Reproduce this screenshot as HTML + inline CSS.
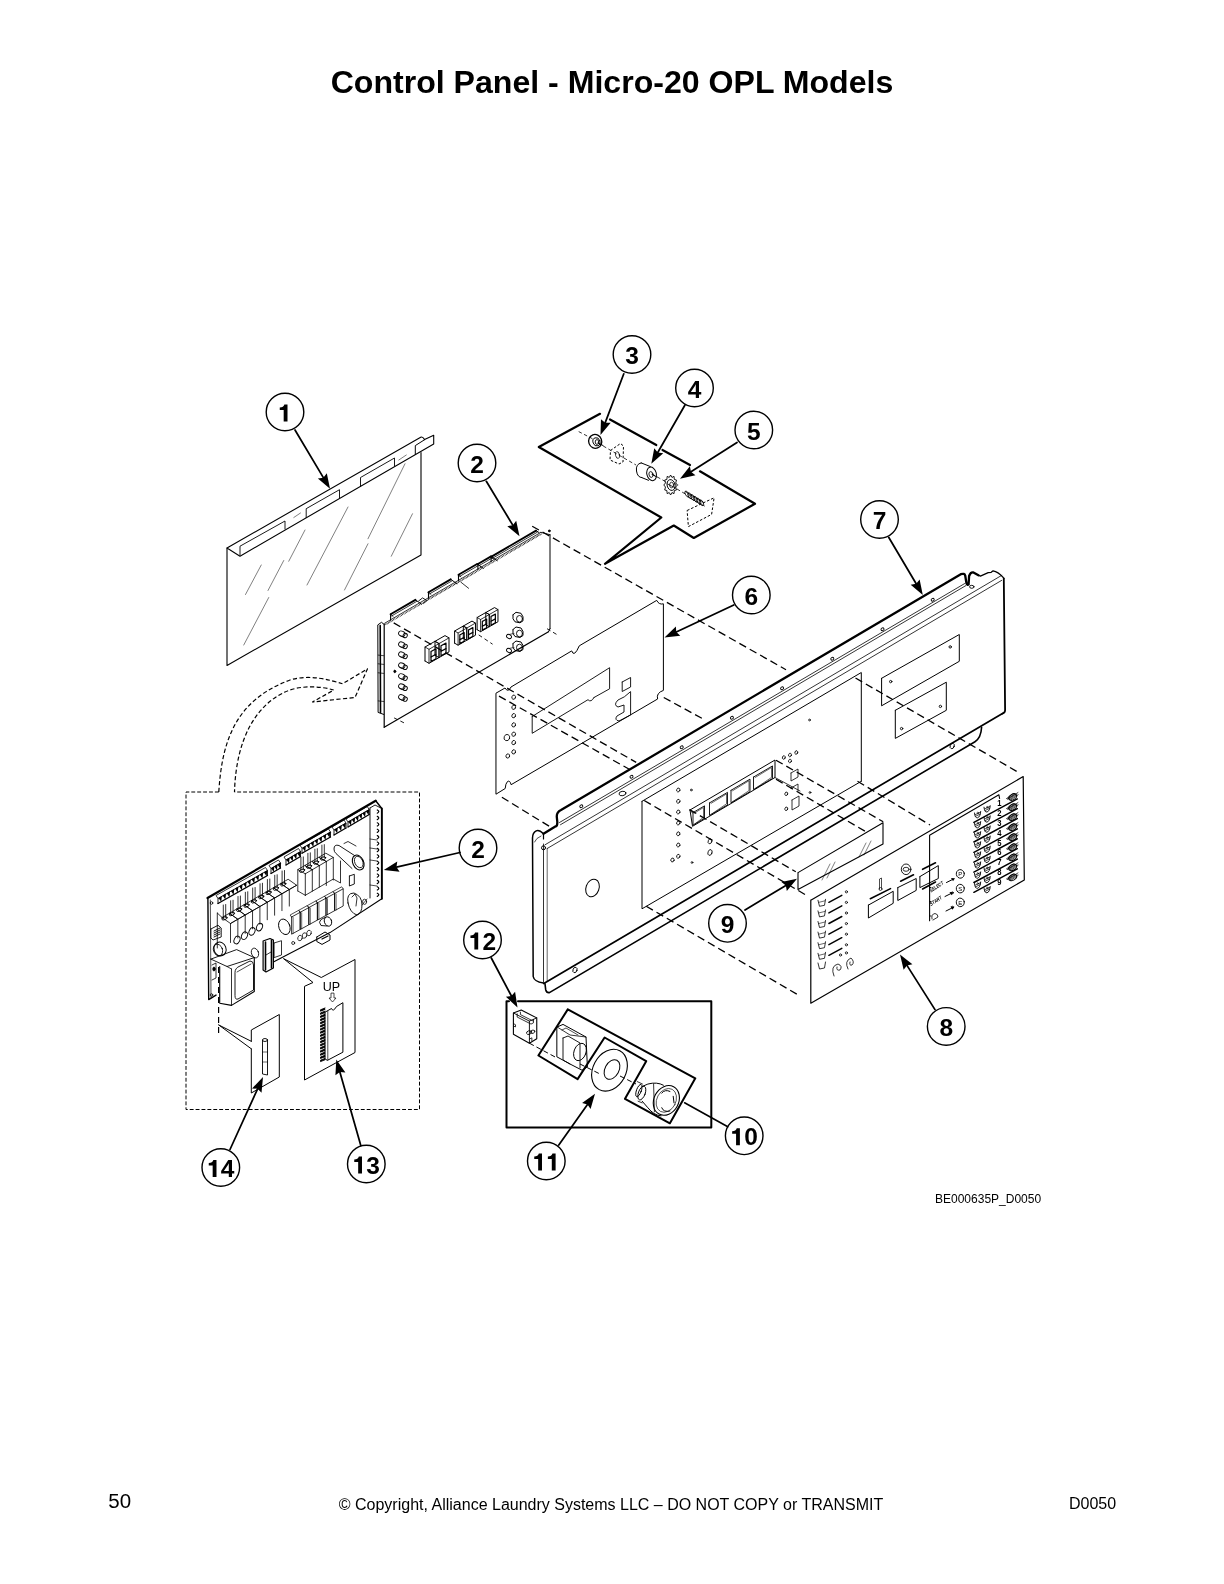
<!DOCTYPE html>
<html><head><meta charset="utf-8"><style>
html,body{margin:0;padding:0;background:#fff;}
body{width:1224px;height:1584px;overflow:hidden;}
svg{display:block;will-change:transform;}
text{font-family:"Liberation Sans",sans-serif;fill:#000;stroke:none;}
.cn{font-size:24.5px;font-weight:bold;}
</style></head><body>
<svg width="1224" height="1584" viewBox="0 0 1224 1584" stroke="#000" fill="none" stroke-linecap="round" stroke-linejoin="round">
<text x="612" y="93" text-anchor="middle" style="font-size:32.1px;font-weight:bold">Control Panel - Micro-20 OPL Models</text>
<text x="108.3" y="1508" style="font-size:20.5px">50</text>
<text x="611" y="1510" text-anchor="middle" style="font-size:16px">© Copyright, Alliance Laundry Systems LLC – DO NOT COPY or TRANSMIT</text>
<text x="1069" y="1508.5" style="font-size:16px">D0050</text>
<text x="935" y="1203" style="font-size:12px">BE000635P_D0050</text>
<path d="M227,548 L420.7,437.3 Q422.5,436.3 424.6,439.6 L433.7,435.3 L433.7,443.9 L240,556.2 L227,548" stroke-width="1.1" fill="none"/>
<polyline points="227.00,548.00 227.00,665.50 421.00,555.00 421.00,452.50" stroke-width="1.1" fill="none"/>
<polyline points="415.30,454.40 415.30,445.60 424.60,439.70" stroke-width="1.0" fill="none"/>
<polyline points="240.00,555.20 240.00,546.20 285.00,521.00 285.00,529.00" stroke-width="0.9" fill="none"/>
<polyline points="306.20,517.70 306.20,508.70 339.50,489.70 339.50,497.70" stroke-width="0.9" fill="none"/>
<polyline points="360.50,486.50 360.50,477.50 394.50,458.00 394.50,466.00" stroke-width="0.9" fill="none"/>
<line x1="245.50" y1="594.50" x2="261.25" y2="565.00" stroke-width="0.5"/>
<line x1="268.00" y1="590.50" x2="283.75" y2="560.50" stroke-width="0.5"/>
<line x1="288.75" y1="561.25" x2="305.00" y2="530.00" stroke-width="0.5"/>
<line x1="243.75" y1="645.00" x2="268.75" y2="597.50" stroke-width="0.5"/>
<line x1="307.00" y1="585.00" x2="348.00" y2="507.00" stroke-width="0.5"/>
<line x1="344.50" y1="590.00" x2="368.00" y2="543.75" stroke-width="0.5"/>
<line x1="368.00" y1="538.75" x2="405.00" y2="463.75" stroke-width="0.5"/>
<line x1="391.25" y1="556.25" x2="412.50" y2="513.75" stroke-width="0.5"/>
<line x1="293.80" y1="517.50" x2="300.50" y2="513.00" stroke-width="0.5"/>
<line x1="398.80" y1="460.00" x2="406.30" y2="455.00" stroke-width="0.5"/>
<circle cx="285.00" cy="412.00" r="18.8" stroke-width="1.4" fill="#fff"/>
<path d="M283.68,421.50 L287.50,421.50 L287.50,404.45 L284.36,404.45 Q283.58,407.19 279.76,407.49 L279.76,409.94 L283.68,409.94 Z" fill="#000" stroke="none"/>
<line x1="295.00" y1="430.00" x2="323.35" y2="477.63" stroke-width="1.75"/>
<polygon points="330.00,488.80 317.86,478.57 323.35,477.63 326.80,473.25" fill="#000" stroke="none"/>
<circle cx="477.00" cy="463.00" r="18.8" stroke-width="1.4" fill="#fff"/>
<text x="470.19" y="472.50" class="cn">2</text>
<line x1="486.30" y1="481.30" x2="512.78" y2="525.17" stroke-width="1.75"/>
<polygon points="519.50,536.30 507.30,526.15 512.78,525.17 516.20,520.77" fill="#000" stroke="none"/>
<circle cx="632.00" cy="354.50" r="18.8" stroke-width="1.4" fill="#fff"/>
<text x="625.19" y="364.00" class="cn">3</text>
<line x1="623.80" y1="373.80" x2="605.13" y2="422.85" stroke-width="1.75"/>
<polygon points="600.50,435.00 600.98,419.13 605.13,422.85 610.70,422.83" fill="#000" stroke="none"/>
<circle cx="694.50" cy="388.00" r="18.8" stroke-width="1.4" fill="#fff"/>
<text x="687.69" y="397.50" class="cn">4</text>
<line x1="685.00" y1="405.00" x2="657.76" y2="452.52" stroke-width="1.75"/>
<polygon points="651.30,463.80 654.25,448.20 657.76,452.52 663.27,453.37" fill="#000" stroke="none"/>
<circle cx="753.80" cy="430.00" r="18.8" stroke-width="1.4" fill="#fff"/>
<text x="746.99" y="439.50" class="cn">5</text>
<line x1="737.00" y1="442.50" x2="690.97" y2="471.82" stroke-width="1.75"/>
<polygon points="680.00,478.80 689.86,466.36 690.97,471.82 695.45,475.13" fill="#000" stroke="none"/>
<circle cx="751.30" cy="595.00" r="18.8" stroke-width="1.4" fill="#fff"/>
<text x="744.49" y="604.50" class="cn">6</text>
<line x1="733.80" y1="605.00" x2="676.27" y2="631.98" stroke-width="1.75"/>
<polygon points="664.50,637.50 675.87,626.42 676.27,631.98 680.29,635.84" fill="#000" stroke="none"/>
<circle cx="879.50" cy="519.50" r="18.8" stroke-width="1.4" fill="#fff"/>
<text x="872.69" y="529.00" class="cn">7</text>
<line x1="888.80" y1="537.50" x2="916.18" y2="583.81" stroke-width="1.75"/>
<polygon points="922.80,595.00 910.69,584.74 916.18,583.81 919.64,579.44" fill="#000" stroke="none"/>
<circle cx="946.20" cy="1026.40" r="18.8" stroke-width="1.4" fill="#fff"/>
<text x="939.39" y="1035.90" class="cn">8</text>
<line x1="935.00" y1="1009.60" x2="906.96" y2="965.38" stroke-width="1.75"/>
<polygon points="900.00,954.40 912.42,964.28 906.96,965.38 903.64,969.85" fill="#000" stroke="none"/>
<circle cx="727.50" cy="923.30" r="18.8" stroke-width="1.4" fill="#fff"/>
<text x="720.69" y="932.80" class="cn">9</text>
<line x1="745.00" y1="910.00" x2="785.85" y2="885.49" stroke-width="1.75"/>
<polygon points="797.00,878.80 786.81,890.98 785.85,885.49 781.46,882.06" fill="#000" stroke="none"/>
<circle cx="744.20" cy="1135.80" r="18.8" stroke-width="1.4" fill="#fff"/>
<path d="M736.07,1145.30 L739.89,1145.30 L739.89,1128.25 L736.75,1128.25 Q735.97,1130.99 732.15,1131.29 L732.15,1133.74 L736.07,1133.74 Z" fill="#000" stroke="none"/>
<text x="744.20" y="1145.30" class="cn">0</text>
<circle cx="546.30" cy="1161.00" r="18.8" stroke-width="1.4" fill="#fff"/>
<path d="M538.17,1170.50 L541.99,1170.50 L541.99,1153.45 L538.85,1153.45 Q538.07,1156.19 534.25,1156.49 L534.25,1158.94 L538.17,1158.94 Z" fill="#000" stroke="none"/>
<path d="M551.79,1170.50 L555.61,1170.50 L555.61,1153.45 L552.47,1153.45 Q551.69,1156.19 547.87,1156.49 L547.87,1158.94 L551.79,1158.94 Z" fill="#000" stroke="none"/>
<line x1="558.80" y1="1145.00" x2="587.49" y2="1104.41" stroke-width="1.75"/>
<polygon points="595.00,1093.80 590.59,1109.05 587.49,1104.41 582.09,1103.05" fill="#000" stroke="none"/>
<circle cx="482.50" cy="940.00" r="18.8" stroke-width="1.4" fill="#fff"/>
<path d="M474.37,949.50 L478.19,949.50 L478.19,932.45 L475.05,932.45 Q474.27,935.19 470.45,935.49 L470.45,937.94 L474.37,937.94 Z" fill="#000" stroke="none"/>
<text x="482.50" y="949.50" class="cn">2</text>
<line x1="491.30" y1="958.00" x2="511.42" y2="996.01" stroke-width="1.75"/>
<polygon points="517.50,1007.50 505.89,996.68 511.42,996.01 515.08,991.81" fill="#000" stroke="none"/>
<circle cx="366.30" cy="1164.00" r="18.8" stroke-width="1.4" fill="#fff"/>
<path d="M358.17,1173.50 L361.99,1173.50 L361.99,1156.45 L358.85,1156.45 Q358.07,1159.19 354.25,1159.49 L354.25,1161.94 L358.17,1161.94 Z" fill="#000" stroke="none"/>
<text x="366.30" y="1173.50" class="cn">3</text>
<line x1="360.80" y1="1145.50" x2="339.86" y2="1072.00" stroke-width="1.75"/>
<polygon points="336.30,1059.50 345.41,1072.50 339.86,1072.00 335.41,1075.35" fill="#000" stroke="none"/>
<circle cx="220.80" cy="1167.50" r="18.8" stroke-width="1.4" fill="#fff"/>
<path d="M212.67,1177.00 L216.49,1177.00 L216.49,1159.95 L213.35,1159.95 Q212.57,1162.69 208.75,1162.99 L208.75,1165.44 L212.67,1165.44 Z" fill="#000" stroke="none"/>
<text x="220.80" y="1177.00" class="cn">4</text>
<line x1="230.00" y1="1149.50" x2="257.61" y2="1088.83" stroke-width="1.75"/>
<polygon points="263.00,1077.00 261.52,1092.81 257.61,1088.83 252.05,1088.50" fill="#000" stroke="none"/>
<circle cx="478.00" cy="848.00" r="18.8" stroke-width="1.4" fill="#fff"/>
<text x="471.19" y="857.50" class="cn">2</text>
<line x1="460.00" y1="852.50" x2="396.47" y2="867.09" stroke-width="1.75"/>
<polygon points="383.80,870.00 397.26,861.57 396.47,867.09 399.58,871.71" fill="#000" stroke="none"/>
<polyline points="600.00,413.80 538.80,447.00 661.30,517.50 605.00,563.80 673.80,525.50 693.80,538.00 755.00,503.80 700.00,471.30" stroke-width="2.2" fill="none"/>
<polyline points="610.00,419.50 656.30,445.00" stroke-width="2.2" fill="none"/>
<polyline points="662.50,450.00 690.00,465.00" stroke-width="2.2" fill="none"/>
<line x1="578.70" y1="431.60" x2="593.00" y2="439.00" stroke-width="0.8" stroke-dasharray="3.5,2.5" stroke-linecap="butt"/>
<line x1="598.00" y1="443.00" x2="636.00" y2="465.00" stroke-width="0.8" stroke-dasharray="3.5,2.5" stroke-linecap="butt"/>
<line x1="652.00" y1="474.00" x2="668.00" y2="483.00" stroke-width="0.8" stroke-dasharray="3.5,2.5" stroke-linecap="butt"/>
<line x1="677.00" y1="489.00" x2="687.00" y2="495.00" stroke-width="0.8" stroke-dasharray="3.5,2.5" stroke-linecap="butt"/>
<ellipse cx="595.20" cy="441.40" rx="6.5" ry="7" stroke-width="1.3" fill="none" transform="rotate(-20 595.20 441.40)"/>
<ellipse cx="596.50" cy="441.80" rx="3.5" ry="4.2" stroke-width="0.9" fill="none" transform="rotate(-20 596.50 441.80)"/>
<ellipse cx="597.00" cy="442.00" rx="1.8" ry="2.4" stroke-width="0.9" fill="none"/>
<line x1="598.00" y1="443.00" x2="603.00" y2="445.50" stroke-width="1.0"/>
<path d="M610.5,450.5 L620.5,443.5 L623.5,446 L623,462 L619,464 L610,460 Z" stroke-width="1.0" fill="none" stroke-dasharray="2.5,1.8" stroke-linecap="butt"/>
<ellipse cx="617.50" cy="455.00" rx="2" ry="3.5" stroke-width="0.7" fill="none" transform="rotate(-15 617.50 455.00)"/>
<path d="M641.2,462.9 L650.4,466.6 M641.8,477.6 L648.5,480.3 M641.2,462.9 Q635.5,464 636.5,471 Q637.5,477.5 641.8,477.6" stroke-width="1.0" fill="none"/>
<ellipse cx="651.60" cy="473.90" rx="4.7" ry="6.9" stroke-width="1.0" fill="none" transform="rotate(-15 651.60 473.90)"/>
<ellipse cx="651.00" cy="474.50" rx="2" ry="3" stroke-width="0.8" fill="none" transform="rotate(-15 651.00 474.50)"/>
<line x1="652.00" y1="474.50" x2="657.00" y2="477.00" stroke-width="1.0"/>
<polyline points="677.40,485.00 675.72,487.02 676.49,490.00 674.35,490.52 674.00,493.66 671.97,492.53 670.60,495.00 669.23,492.53 667.20,493.66 666.85,490.52 664.71,490.00 665.48,487.02 663.80,485.00 665.48,482.98 664.71,480.00 666.85,479.48 667.20,476.34 669.23,477.47 670.60,475.00 671.97,477.47 674.00,476.34 674.35,479.48 676.49,480.00 675.72,482.98 677.40,485.00" stroke-width="0.9" fill="none"/>
<ellipse cx="671.10" cy="485.00" rx="4" ry="5.5" stroke-width="0.9" fill="none" transform="rotate(-15 671.10 485.00)"/>
<ellipse cx="671.60" cy="485.00" rx="2" ry="2.8" stroke-width="0.8" fill="none"/>
<line x1="667.60" y1="484.00" x2="675.60" y2="488.00" stroke-width="0.8"/>
<ellipse cx="687.00" cy="494.00" rx="1.6" ry="3.3" stroke-width="0.8" fill="none" transform="rotate(-30 687.00 494.00)"/>
<ellipse cx="689.90" cy="495.75" rx="1.6" ry="3.3" stroke-width="0.8" fill="none" transform="rotate(-30 689.90 495.75)"/>
<ellipse cx="692.80" cy="497.50" rx="1.6" ry="3.3" stroke-width="0.8" fill="none" transform="rotate(-30 692.80 497.50)"/>
<ellipse cx="695.70" cy="499.25" rx="1.6" ry="3.3" stroke-width="0.8" fill="none" transform="rotate(-30 695.70 499.25)"/>
<ellipse cx="698.60" cy="501.00" rx="1.6" ry="3.3" stroke-width="0.8" fill="none" transform="rotate(-30 698.60 501.00)"/>
<ellipse cx="701.50" cy="502.75" rx="1.6" ry="3.3" stroke-width="0.8" fill="none" transform="rotate(-30 701.50 502.75)"/>
<line x1="685.30" y1="491.70" x2="702.00" y2="501.50" stroke-width="0.7"/>
<line x1="688.00" y1="497.00" x2="704.50" y2="506.00" stroke-width="0.7"/>
<polyline points="687.10,510.50 714.10,497.80 711.60,514.40 688.40,526.60 687.10,510.50" stroke-width="1.0" fill="none" stroke-dasharray="2.6,1.8" stroke-linecap="butt"/>
<polyline points="384.20,624.50 381.50,622.30 377.80,624.90 378.10,712.40 383.70,714.40" stroke-width="1.0" fill="none"/>
<line x1="380.20" y1="625.50" x2="380.50" y2="712.50" stroke-width="1.6"/>
<line x1="378.20" y1="655.10" x2="383.70" y2="655.70" stroke-width="0.7"/>
<line x1="378.20" y1="663.80" x2="383.70" y2="664.40" stroke-width="0.7"/>
<line x1="378.20" y1="672.80" x2="383.70" y2="673.40" stroke-width="0.7"/>
<line x1="378.20" y1="700.90" x2="383.70" y2="701.50" stroke-width="0.7"/>
<line x1="384.20" y1="727.20" x2="548.50" y2="631.80" stroke-width="1.2"/>
<line x1="384.20" y1="624.00" x2="384.20" y2="727.20" stroke-width="1.2"/>
<line x1="550.00" y1="534.70" x2="550.00" y2="628.70" stroke-width="1.0"/>
<path d="M548.5,631.8 L550,628.7" stroke-width="1.0" fill="none"/>
<line x1="384.70" y1="623.20" x2="540.80" y2="532.40" stroke-width="0.8"/>
<line x1="385.50" y1="624.50" x2="541.50" y2="533.80" stroke-width="1.5" stroke-dasharray="0.7,0.8" stroke-linecap="butt"/>
<line x1="540.80" y1="532.40" x2="550.00" y2="534.70" stroke-width="0.9"/>
<ellipse cx="549.30" cy="530.90" rx="0.9" ry="0.9" stroke-width="1.0" fill="#000"/>
<line x1="390.60" y1="614.27" x2="415.40" y2="599.84" stroke-width="1.9"/>
<line x1="391.80" y1="615.87" x2="416.60" y2="601.44" stroke-width="0.8"/>
<line x1="390.60" y1="614.27" x2="390.60" y2="620.27" stroke-width="1.1"/>
<polyline points="415.40,599.84 421.60,604.24" stroke-width="1.0" fill="none"/>
<line x1="390.60" y1="614.27" x2="393.10" y2="616.47" stroke-width="0.8"/>
<line x1="428.50" y1="592.22" x2="450.70" y2="579.31" stroke-width="1.9"/>
<line x1="429.70" y1="593.82" x2="451.90" y2="580.91" stroke-width="0.8"/>
<line x1="428.50" y1="592.22" x2="428.50" y2="598.22" stroke-width="1.1"/>
<polyline points="450.70,579.31 456.90,583.71" stroke-width="1.0" fill="none"/>
<line x1="428.50" y1="592.22" x2="431.00" y2="594.42" stroke-width="0.8"/>
<line x1="458.50" y1="574.77" x2="477.10" y2="563.95" stroke-width="1.9"/>
<line x1="459.70" y1="576.37" x2="478.30" y2="565.55" stroke-width="0.8"/>
<line x1="458.50" y1="574.77" x2="458.50" y2="580.77" stroke-width="1.1"/>
<polyline points="477.10,563.95 483.30,568.35" stroke-width="1.0" fill="none"/>
<line x1="458.50" y1="574.77" x2="461.00" y2="576.97" stroke-width="0.8"/>
<line x1="477.90" y1="563.99" x2="491.10" y2="556.31" stroke-width="1.9"/>
<line x1="479.10" y1="565.59" x2="492.30" y2="557.91" stroke-width="0.8"/>
<line x1="477.90" y1="563.99" x2="477.90" y2="569.49" stroke-width="1.1"/>
<polyline points="491.10,556.31 497.30,560.71" stroke-width="1.0" fill="none"/>
<line x1="477.90" y1="563.99" x2="480.40" y2="566.19" stroke-width="0.8"/>
<line x1="491.10" y1="556.81" x2="536.10" y2="530.63" stroke-width="1.9"/>
<line x1="492.30" y1="558.41" x2="537.30" y2="532.23" stroke-width="0.8"/>
<line x1="491.10" y1="556.81" x2="491.10" y2="561.81" stroke-width="1.1"/>
<polyline points="536.10,530.63 539.10,532.63" stroke-width="1.0" fill="none"/>
<line x1="491.10" y1="556.81" x2="493.60" y2="559.01" stroke-width="0.8"/>
<polyline points="418.70,600.90 422.60,597.90 426.80,600.60 423.60,603.50" stroke-width="0.9" fill="none"/>
<line x1="460.80" y1="582.10" x2="468.60" y2="588.30" stroke-width="0.8"/>
<ellipse cx="401.80" cy="633.70" rx="3.3" ry="2.5" stroke-width="0.9" fill="none" transform="rotate(25 401.80 633.70)"/>
<ellipse cx="405.20" cy="635.50" rx="2.1" ry="2.2" stroke-width="0.9" fill="none" transform="rotate(25 405.20 635.50)"/>
<line x1="400.00" y1="635.70" x2="404.00" y2="637.50" stroke-width="0.8"/>
<ellipse cx="401.80" cy="644.60" rx="3.3" ry="2.5" stroke-width="0.9" fill="none" transform="rotate(25 401.80 644.60)"/>
<ellipse cx="405.20" cy="646.40" rx="2.1" ry="2.2" stroke-width="0.9" fill="none" transform="rotate(25 405.20 646.40)"/>
<line x1="400.00" y1="646.60" x2="404.00" y2="648.40" stroke-width="0.8"/>
<ellipse cx="401.80" cy="654.60" rx="3.3" ry="2.5" stroke-width="0.9" fill="none" transform="rotate(25 401.80 654.60)"/>
<ellipse cx="405.20" cy="656.40" rx="2.1" ry="2.2" stroke-width="0.9" fill="none" transform="rotate(25 405.20 656.40)"/>
<line x1="400.00" y1="656.60" x2="404.00" y2="658.40" stroke-width="0.8"/>
<ellipse cx="401.80" cy="665.50" rx="3.3" ry="2.5" stroke-width="0.9" fill="none" transform="rotate(25 401.80 665.50)"/>
<ellipse cx="405.20" cy="667.30" rx="2.1" ry="2.2" stroke-width="0.9" fill="none" transform="rotate(25 405.20 667.30)"/>
<line x1="400.00" y1="667.50" x2="404.00" y2="669.30" stroke-width="0.8"/>
<ellipse cx="401.80" cy="676.40" rx="3.3" ry="2.5" stroke-width="0.9" fill="none" transform="rotate(25 401.80 676.40)"/>
<ellipse cx="405.20" cy="678.20" rx="2.1" ry="2.2" stroke-width="0.9" fill="none" transform="rotate(25 405.20 678.20)"/>
<line x1="400.00" y1="678.40" x2="404.00" y2="680.20" stroke-width="0.8"/>
<ellipse cx="401.80" cy="686.50" rx="3.3" ry="2.5" stroke-width="0.9" fill="none" transform="rotate(25 401.80 686.50)"/>
<ellipse cx="405.20" cy="688.30" rx="2.1" ry="2.2" stroke-width="0.9" fill="none" transform="rotate(25 405.20 688.30)"/>
<line x1="400.00" y1="688.50" x2="404.00" y2="690.30" stroke-width="0.8"/>
<ellipse cx="401.80" cy="697.30" rx="3.3" ry="2.5" stroke-width="0.9" fill="none" transform="rotate(25 401.80 697.30)"/>
<ellipse cx="405.20" cy="699.10" rx="2.1" ry="2.2" stroke-width="0.9" fill="none" transform="rotate(25 405.20 699.10)"/>
<line x1="400.00" y1="699.30" x2="404.00" y2="701.10" stroke-width="0.8"/>
<ellipse cx="394.80" cy="671.40" rx="1.0" ry="1.3" stroke-width="0.8" fill="#000"/>
<polyline points="425.00,661.00 425.00,647.00 435.00,641.30 439.00,643.60 439.00,657.60 429.00,663.30 425.00,661.00" stroke-width="1.0" fill="none"/>
<polyline points="425.00,647.00 429.00,649.30 439.00,643.60" stroke-width="0.8" fill="none"/>
<polyline points="429.00,649.30 429.00,663.30" stroke-width="0.8" fill="none"/>
<polyline points="431.00,651.50 436.00,648.80 436.00,654.30 431.00,657.00 431.00,651.50" stroke-width="1.2" fill="none"/>
<polyline points="431.00,657.00 431.00,661.50 436.00,658.80 436.00,654.30" stroke-width="1.2" fill="none"/>
<polyline points="435.00,655.30 435.00,641.30 445.00,635.60 449.00,637.90 449.00,651.90 439.00,657.60 435.00,655.30" stroke-width="1.0" fill="none"/>
<polyline points="435.00,641.30 439.00,643.60 449.00,637.90" stroke-width="0.8" fill="none"/>
<polyline points="439.00,643.60 439.00,657.60" stroke-width="0.8" fill="none"/>
<polyline points="441.00,645.80 446.00,643.10 446.00,648.60 441.00,651.30 441.00,645.80" stroke-width="1.2" fill="none"/>
<polyline points="441.00,651.30 441.00,655.80 446.00,653.10 446.00,648.60" stroke-width="1.2" fill="none"/>
<polyline points="454.60,643.18 454.60,631.00 463.30,626.04 466.78,628.04 466.78,640.22 458.08,645.18 454.60,643.18" stroke-width="1.0" fill="none"/>
<polyline points="454.60,631.00 458.08,633.00 466.78,628.04" stroke-width="0.8" fill="none"/>
<polyline points="458.08,633.00 458.08,645.18" stroke-width="0.8" fill="none"/>
<polyline points="459.82,634.91 464.17,632.57 464.17,637.35 459.82,639.70 459.82,634.91" stroke-width="1.2" fill="none"/>
<polyline points="459.82,639.70 459.82,643.62 464.17,641.27 464.17,637.35" stroke-width="1.2" fill="none"/>
<polyline points="463.30,638.22 463.30,626.04 472.00,621.08 475.48,623.08 475.48,635.26 466.78,640.22 463.30,638.22" stroke-width="1.0" fill="none"/>
<polyline points="463.30,626.04 466.78,628.04 475.48,623.08" stroke-width="0.8" fill="none"/>
<polyline points="466.78,628.04 466.78,640.22" stroke-width="0.8" fill="none"/>
<polyline points="468.52,629.96 472.87,627.61 472.87,632.39 468.52,634.74 468.52,629.96" stroke-width="1.2" fill="none"/>
<polyline points="468.52,634.74 468.52,638.66 472.87,636.31 472.87,632.39" stroke-width="1.2" fill="none"/>
<polyline points="477.10,629.68 477.10,617.50 485.80,612.54 489.28,614.54 489.28,626.72 480.58,631.68 477.10,629.68" stroke-width="1.0" fill="none"/>
<polyline points="477.10,617.50 480.58,619.50 489.28,614.54" stroke-width="0.8" fill="none"/>
<polyline points="480.58,619.50 480.58,631.68" stroke-width="0.8" fill="none"/>
<polyline points="482.32,621.41 486.67,619.07 486.67,623.85 482.32,626.20 482.32,621.41" stroke-width="1.2" fill="none"/>
<polyline points="482.32,626.20 482.32,630.12 486.67,627.77 486.67,623.85" stroke-width="1.2" fill="none"/>
<polyline points="485.80,624.72 485.80,612.54 494.50,607.58 497.98,609.58 497.98,621.76 489.28,626.72 485.80,624.72" stroke-width="1.0" fill="none"/>
<polyline points="485.80,612.54 489.28,614.54 497.98,609.58" stroke-width="0.8" fill="none"/>
<polyline points="489.28,614.54 489.28,626.72" stroke-width="0.8" fill="none"/>
<polyline points="491.02,616.46 495.37,614.11 495.37,618.89 491.02,621.24 491.02,616.46" stroke-width="1.2" fill="none"/>
<polyline points="491.02,621.24 491.02,625.16 495.37,622.81 495.37,618.89" stroke-width="1.2" fill="none"/>
<polyline points="513.00,614.80 516.00,612.30 521.00,613.30 523.00,616.80 523.00,620.80 520.00,622.80 515.00,621.80 513.00,618.80 513.00,614.80" stroke-width="1.0" fill="none"/>
<ellipse cx="519.50" cy="618.80" rx="3" ry="3.3" stroke-width="0.9" fill="none"/>
<polyline points="513.00,629.50 516.00,627.00 521.00,628.00 523.00,631.50 523.00,635.50 520.00,637.50 515.00,636.50 513.00,633.50 513.00,629.50" stroke-width="1.0" fill="none"/>
<ellipse cx="519.50" cy="633.50" rx="3" ry="3.3" stroke-width="0.9" fill="none"/>
<ellipse cx="509.00" cy="636.50" rx="2.6" ry="2" stroke-width="0.9" fill="none" transform="rotate(30 509.00 636.50)"/>
<line x1="509.00" y1="634.50" x2="514.00" y2="633.50" stroke-width="0.7"/>
<polyline points="513.00,643.50 516.00,641.00 521.00,642.00 523.00,645.50 523.00,649.50 520.00,651.50 515.00,650.50 513.00,647.50 513.00,643.50" stroke-width="1.0" fill="none"/>
<ellipse cx="519.50" cy="647.50" rx="3" ry="3.3" stroke-width="0.9" fill="none"/>
<ellipse cx="509.00" cy="650.50" rx="2.6" ry="2" stroke-width="0.9" fill="none" transform="rotate(30 509.00 650.50)"/>
<line x1="509.00" y1="648.50" x2="514.00" y2="647.50" stroke-width="0.7"/>
<line x1="478.70" y1="634.90" x2="492.60" y2="644.20" stroke-width="0.9" stroke-dasharray="4,3" stroke-linecap="butt"/>
<line x1="394.10" y1="717.90" x2="406.50" y2="724.10" stroke-width="0.9" stroke-dasharray="4,3" stroke-linecap="butt"/>
<line x1="547.00" y1="628.70" x2="558.60" y2="635.60" stroke-width="0.9" stroke-dasharray="4,3" stroke-linecap="butt"/>
<path d="M496.3,693 L505,688 Q508,693 511,687 L571.7,650.9 Q574,658 579.3,645.8 L656.7,600.4 Q659,605 663.4,603.8 L663.4,690.4 Q656,693 657.6,699 L511.1,784.7 Q510,780 507.5,781.5 Q505.5,783.5 505.2,788.5 L496.3,794 Z" stroke-width="1.0" fill="none"/>
<polyline points="532.20,716.50 609.60,667.70 609.60,688.80 594.00,697.50" stroke-width="0.9" fill="none"/>
<path d="M594,697.5 Q591,703 588,699.7 L532.2,733.3 L532.2,716.5" stroke-width="0.9" fill="none"/>
<polyline points="622.20,682.00 630.60,677.50 630.60,687.00 622.20,691.50 622.20,682.00" stroke-width="0.9" fill="none"/>
<path d="M630.6,692 L630.6,715 L619,721 Q614,720 617,716 L624,712 L624,705 L618,707 Q613,705 618,700 L624,697 Z" stroke-width="0.9" fill="none"/>
<ellipse cx="513.70" cy="697.20" rx="1.8" ry="2.2" stroke-width="0.8" fill="none" transform="rotate(20 513.70 697.20)"/>
<ellipse cx="513.70" cy="707.30" rx="1.8" ry="2.2" stroke-width="0.8" fill="none" transform="rotate(20 513.70 707.30)"/>
<ellipse cx="513.70" cy="715.70" rx="1.8" ry="2.2" stroke-width="0.8" fill="none" transform="rotate(20 513.70 715.70)"/>
<ellipse cx="513.70" cy="724.90" rx="1.8" ry="2.2" stroke-width="0.8" fill="none" transform="rotate(20 513.70 724.90)"/>
<ellipse cx="513.70" cy="734.20" rx="1.8" ry="2.2" stroke-width="0.8" fill="none" transform="rotate(20 513.70 734.20)"/>
<ellipse cx="513.70" cy="742.60" rx="1.8" ry="2.2" stroke-width="0.8" fill="none" transform="rotate(20 513.70 742.60)"/>
<ellipse cx="513.70" cy="751.90" rx="1.8" ry="2.2" stroke-width="0.8" fill="none" transform="rotate(20 513.70 751.90)"/>
<ellipse cx="506.90" cy="737.60" rx="2.8" ry="3.2" stroke-width="0.8" fill="none" transform="rotate(20 506.90 737.60)"/>
<ellipse cx="507.80" cy="756.00" rx="1.8" ry="2.2" stroke-width="0.8" fill="none" transform="rotate(20 507.80 756.00)"/>
<path d="M543.5,833.8 L555.3,826.5 Q557.5,826 557.3,822 L556.8,817 Q556.5,812 561,810 L960.8,574.2 Q964.5,573 965.2,575.5 L966.5,583.5 Q967.5,585.5 968.6,584.5 L969.1,576 Q970.5,572 973,572.3 L978.4,575.2" stroke-width="2.3" fill="none"/>
<path d="M978.4,575.2 L980.4,576.2 L988.2,572.7 L991.2,572.3 L993.1,570.8 Q998,571.5 1002.9,577.2 L1003.9,578.6" stroke-width="1.3" fill="none"/>
<line x1="559.50" y1="822.50" x2="964.60" y2="583.60" stroke-width="0.8"/>
<line x1="560.50" y1="824.70" x2="966.00" y2="585.50" stroke-width="0.8"/>
<line x1="545.00" y1="844.80" x2="1001.80" y2="575.30" stroke-width="0.8"/>
<line x1="547.20" y1="848.50" x2="1001.80" y2="580.30" stroke-width="0.8"/>
<path d="M1003.8,578.3 L1005.1,710.3 Q1005,713 1002.5,713.6" stroke-width="1.8" fill="none"/>
<line x1="543.80" y1="983.60" x2="1002.50" y2="713.40" stroke-width="1.7"/>
<path d="M545,983.8 L545.7,989.7 Q546.5,993 549.4,992.6 L975,741.7 Q981,738 981.6,727.3" stroke-width="1.6" fill="none"/>
<path d="M543.5,833.8 Q539,829.5 536.2,830.9 Q532.5,833 532.5,838 L533.2,976.5 Q534,981.5 543.5,983.1" stroke-width="1.5" fill="none"/>
<line x1="543.50" y1="844.00" x2="543.50" y2="982.00" stroke-width="0.8"/>
<line x1="547.20" y1="848.50" x2="547.20" y2="981.00" stroke-width="0.6"/>
<line x1="543.50" y1="833.80" x2="543.50" y2="839.00" stroke-width="1.2"/>
<path d="M534.5,842 Q536,838 541,836" stroke-width="0.7" fill="none"/>
<ellipse cx="543.50" cy="847.80" rx="2" ry="2" stroke-width="1.0" fill="none"/>
<ellipse cx="581.30" cy="806.30" rx="1.6" ry="1.3" stroke-width="0.9" fill="none" transform="rotate(-30 581.30 806.30)"/>
<ellipse cx="631.50" cy="776.80" rx="1.6" ry="1.3" stroke-width="0.9" fill="none" transform="rotate(-30 631.50 776.80)"/>
<ellipse cx="681.70" cy="747.30" rx="1.6" ry="1.3" stroke-width="0.9" fill="none" transform="rotate(-30 681.70 747.30)"/>
<ellipse cx="731.90" cy="717.80" rx="1.6" ry="1.3" stroke-width="0.9" fill="none" transform="rotate(-30 731.90 717.80)"/>
<ellipse cx="782.10" cy="688.30" rx="1.6" ry="1.3" stroke-width="0.9" fill="none" transform="rotate(-30 782.10 688.30)"/>
<ellipse cx="832.30" cy="658.80" rx="1.6" ry="1.3" stroke-width="0.9" fill="none" transform="rotate(-30 832.30 658.80)"/>
<ellipse cx="882.50" cy="629.30" rx="1.6" ry="1.3" stroke-width="0.9" fill="none" transform="rotate(-30 882.50 629.30)"/>
<ellipse cx="932.70" cy="599.80" rx="1.6" ry="1.3" stroke-width="0.9" fill="none" transform="rotate(-30 932.70 599.80)"/>
<ellipse cx="622.50" cy="793.50" rx="3.5" ry="2.2" stroke-width="0.9" fill="none" transform="rotate(-10 622.50 793.50)"/>
<ellipse cx="971.80" cy="586.80" rx="2.2" ry="1.5" stroke-width="0.9" fill="none"/>
<ellipse cx="575.00" cy="970.00" rx="2" ry="2.8" stroke-width="0.9" fill="none" transform="rotate(20 575.00 970.00)"/>
<ellipse cx="952.20" cy="746.00" rx="2" ry="2.8" stroke-width="0.9" fill="none" transform="rotate(20 952.20 746.00)"/>
<ellipse cx="592.50" cy="888.00" rx="6.5" ry="9" stroke-width="1.0" fill="none" transform="rotate(20 592.50 888.00)"/>
<polyline points="642.00,801.30 861.30,672.50 861.30,781.30" stroke-width="1.0" fill="none"/>
<polyline points="642.00,801.30 642.00,908.80 861.30,781.30" stroke-width="1.0" fill="none"/>
<polyline points="881.60,678.30 959.30,634.50 959.30,661.30 881.60,705.80 881.60,678.30" stroke-width="1.0" fill="none"/>
<ellipse cx="890.70" cy="681.60" rx="1.2" ry="1.2" stroke-width="0.9" fill="none"/>
<ellipse cx="950.20" cy="646.90" rx="1.2" ry="1.2" stroke-width="0.9" fill="none"/>
<polyline points="895.30,710.30 946.30,682.20 946.30,710.30 895.30,738.40 895.30,710.30" stroke-width="1.0" fill="none"/>
<ellipse cx="901.60" cy="728.60" rx="1.2" ry="1.2" stroke-width="0.9" fill="none"/>
<ellipse cx="940.40" cy="706.40" rx="1.2" ry="1.2" stroke-width="0.9" fill="none"/>
<polyline points="690.00,810.00 775.00,760.00 775.00,777.50 692.50,826.30 690.00,810.00" stroke-width="1.0" fill="none"/>
<line x1="690.00" y1="810.00" x2="692.50" y2="813.00" stroke-width="0.8"/>
<polyline points="693.00,812.60 704.50,805.85 704.50,818.35 693.00,825.10 693.00,812.60" stroke-width="0.9" fill="none"/>
<polyline points="694.50,813.10 703.50,807.44 703.50,817.35 694.50,824.10" stroke-width="0.6" fill="none"/>
<polyline points="709.50,802.91 727.50,792.35 727.50,804.85 709.50,815.41 709.50,802.91" stroke-width="0.9" fill="none"/>
<polyline points="711.00,803.41 726.50,793.94 726.50,803.85 711.00,814.41" stroke-width="0.6" fill="none"/>
<polyline points="731.00,790.29 750.00,779.14 750.00,791.64 731.00,802.79 731.00,790.29" stroke-width="0.9" fill="none"/>
<polyline points="732.50,790.79 749.00,780.73 749.00,790.64 732.50,801.79" stroke-width="0.6" fill="none"/>
<polyline points="753.50,777.09 772.50,765.93 772.50,778.43 753.50,789.59 753.50,777.09" stroke-width="0.9" fill="none"/>
<polyline points="755.00,777.59 771.50,767.52 771.50,777.43 755.00,788.59" stroke-width="0.6" fill="none"/>
<line x1="775.00" y1="777.50" x2="800.00" y2="791.00" stroke-width="0.8"/>
<ellipse cx="678.30" cy="790.00" rx="1.6" ry="2" stroke-width="0.8" fill="none" transform="rotate(20 678.30 790.00)"/>
<ellipse cx="678.30" cy="801.30" rx="1.6" ry="2" stroke-width="0.8" fill="none" transform="rotate(20 678.30 801.30)"/>
<ellipse cx="678.30" cy="812.00" rx="1.6" ry="2" stroke-width="0.8" fill="none" transform="rotate(20 678.30 812.00)"/>
<ellipse cx="678.30" cy="823.00" rx="1.6" ry="2" stroke-width="0.8" fill="none" transform="rotate(20 678.30 823.00)"/>
<ellipse cx="678.30" cy="833.80" rx="1.6" ry="2" stroke-width="0.8" fill="none" transform="rotate(20 678.30 833.80)"/>
<ellipse cx="678.30" cy="845.00" rx="1.6" ry="2" stroke-width="0.8" fill="none" transform="rotate(20 678.30 845.00)"/>
<ellipse cx="678.30" cy="856.30" rx="1.6" ry="2" stroke-width="0.8" fill="none" transform="rotate(20 678.30 856.30)"/>
<ellipse cx="672.50" cy="860.00" rx="1.6" ry="2" stroke-width="0.8" fill="none" transform="rotate(20 672.50 860.00)"/>
<ellipse cx="691.30" cy="790.00" rx="0.9" ry="0.9" stroke-width="0.8" fill="none"/>
<ellipse cx="692.00" cy="862.50" rx="0.9" ry="0.9" stroke-width="0.8" fill="none"/>
<ellipse cx="710.00" cy="841.30" rx="1.8" ry="2.6" stroke-width="0.8" fill="none" transform="rotate(20 710.00 841.30)"/>
<ellipse cx="710.00" cy="852.50" rx="2" ry="3" stroke-width="0.8" fill="none" transform="rotate(20 710.00 852.50)"/>
<ellipse cx="783.80" cy="757.50" rx="1.4" ry="1.8" stroke-width="0.8" fill="none" transform="rotate(20 783.80 757.50)"/>
<ellipse cx="790.00" cy="755.00" rx="1.4" ry="1.8" stroke-width="0.8" fill="none" transform="rotate(20 790.00 755.00)"/>
<ellipse cx="796.30" cy="752.50" rx="1.4" ry="1.8" stroke-width="0.8" fill="none" transform="rotate(20 796.30 752.50)"/>
<ellipse cx="790.00" cy="761.00" rx="1.4" ry="1.8" stroke-width="0.8" fill="none" transform="rotate(20 790.00 761.00)"/>
<polyline points="791.00,773.00 798.00,769.00 798.00,777.00 791.00,781.00 791.00,773.00" stroke-width="0.8" fill="none"/>
<polyline points="791.00,788.00 798.00,784.00 798.00,791.00" stroke-width="0.8" fill="none"/>
<polyline points="792.00,800.00 799.00,796.00 799.00,806.00 792.00,810.00 792.00,800.00" stroke-width="0.8" fill="none"/>
<ellipse cx="786.30" cy="793.80" rx="1.4" ry="1.8" stroke-width="0.8" fill="none" transform="rotate(20 786.30 793.80)"/>
<ellipse cx="786.30" cy="808.80" rx="1.4" ry="1.8" stroke-width="0.8" fill="none" transform="rotate(20 786.30 808.80)"/>
<ellipse cx="810.00" cy="792.50" rx="0.9" ry="0.9" stroke-width="0.8" fill="none"/>
<ellipse cx="809.50" cy="720.00" rx="0.9" ry="0.9" stroke-width="0.8" fill="none"/>
<polyline points="798.00,872.60 883.00,822.70 883.00,843.90 798.00,889.60 798.00,872.60" stroke-width="1.1" fill="none"/>
<line x1="822.00" y1="880.00" x2="830.00" y2="864.00" stroke-width="0.5"/>
<line x1="827.00" y1="878.00" x2="835.00" y2="862.00" stroke-width="0.5"/>
<line x1="859.00" y1="857.00" x2="866.00" y2="843.00" stroke-width="0.5"/>
<line x1="864.00" y1="855.00" x2="871.00" y2="841.00" stroke-width="0.5"/>
<polyline points="810.80,900.20 1023.20,776.60 1024.30,880.00 810.80,1003.20 810.80,900.20" stroke-width="1.2" fill="none"/>
<line x1="532.20" y1="526.20" x2="786.00" y2="669.70" stroke-width="1.3" stroke-dasharray="7.7,4.2" stroke-linecap="butt"/>
<line x1="855.50" y1="678.00" x2="1019.00" y2="772.70" stroke-width="1.3" stroke-dasharray="7.7,4.2" stroke-linecap="butt"/>
<line x1="663.75" y1="697.50" x2="705.00" y2="720.00" stroke-width="1.3" stroke-dasharray="7.7,4.2" stroke-linecap="butt"/>
<line x1="857.50" y1="781.25" x2="930.00" y2="825.00" stroke-width="1.3" stroke-dasharray="7.7,4.2" stroke-linecap="butt"/>
<line x1="393.70" y1="622.90" x2="636.20" y2="762.40" stroke-width="1.3" stroke-dasharray="7.7,4.2" stroke-linecap="butt"/>
<line x1="499.00" y1="696.10" x2="629.30" y2="769.30" stroke-width="1.3" stroke-dasharray="7.7,4.2" stroke-linecap="butt"/>
<line x1="501.90" y1="797.30" x2="551.25" y2="827.50" stroke-width="1.3" stroke-dasharray="7.7,4.2" stroke-linecap="butt"/>
<line x1="644.20" y1="800.50" x2="807.80" y2="896.10" stroke-width="1.3" stroke-dasharray="7.7,4.2" stroke-linecap="butt"/>
<line x1="689.60" y1="809.60" x2="795.80" y2="871.80" stroke-width="1.3" stroke-dasharray="7.7,4.2" stroke-linecap="butt"/>
<line x1="776.00" y1="760.20" x2="883.20" y2="821.80" stroke-width="1.3" stroke-dasharray="7.7,4.2" stroke-linecap="butt"/>
<line x1="776.00" y1="779.30" x2="865.20" y2="831.30" stroke-width="1.3" stroke-dasharray="7.7,4.2" stroke-linecap="butt"/>
<line x1="646.25" y1="906.25" x2="800.00" y2="996.00" stroke-width="1.3" stroke-dasharray="7.7,4.2" stroke-linecap="butt"/>
<polyline points="218.80,792.00 186.00,792.00 186.00,1109.50 419.50,1109.50 419.50,792.00 234.50,792.00" stroke-width="1.0" fill="none" stroke-dasharray="3.9,2" stroke-linecap="butt"/>
<path d="M218.8,792 C222,740 236,700 290,680 C310,674 330,680 342.5,683.8 L367.5,668.8 L355,697.5 L312.5,702 L333.8,690 C320,686 300,685 285,692 C255,706 236,740 234.5,792" stroke-width="1.2" fill="none" stroke-dasharray="4.2,2.4" stroke-linecap="butt"/>
<line x1="207.50" y1="898.00" x2="375.70" y2="800.70" stroke-width="2.2"/>
<polyline points="375.70,800.70 381.80,808.50 381.80,898.80" stroke-width="1.4" fill="none"/>
<polyline points="381.80,898.80 330.00,932.60 273.40,962.00" stroke-width="1.1" fill="none"/>
<polyline points="207.90,898.80 208.70,999.60 216.00,995.10" stroke-width="1.4" fill="none"/>
<line x1="210.30" y1="900.00" x2="211.00" y2="998.00" stroke-width="0.7"/>
<ellipse cx="211.50" cy="903.00" rx="1.3" ry="1.3" stroke-width="0.8" fill="none"/>
<ellipse cx="211.50" cy="995.00" rx="1.3" ry="1.3" stroke-width="0.8" fill="none"/>
<polyline points="370.00,808.00 375.00,805.00 381.80,808.50" stroke-width="0.9" fill="none"/>
<line x1="370.00" y1="808.00" x2="370.00" y2="898.00" stroke-width="0.9"/>
<line x1="370.00" y1="839.00" x2="377.00" y2="840.00" stroke-width="0.7"/>
<line x1="370.00" y1="848.00" x2="377.00" y2="849.00" stroke-width="0.7"/>
<line x1="370.00" y1="860.00" x2="377.00" y2="861.00" stroke-width="0.7"/>
<line x1="370.00" y1="885.00" x2="377.00" y2="886.00" stroke-width="0.7"/>
<path d="M377.3,810.0 q3,1.6 0,3.2 M377.3,816.4 q3,1.6 0,3.2 M377.3,822.8 q3,1.6 0,3.2 M377.3,829.2 q3,1.6 0,3.2 M377.3,835.6 q3,1.6 0,3.2 M377.3,842.0 q3,1.6 0,3.2 M377.3,848.4 q3,1.6 0,3.2 M377.3,854.8 q3,1.6 0,3.2 M377.3,861.2 q3,1.6 0,3.2 M377.3,867.6 q3,1.6 0,3.2 M377.3,874.0 q3,1.6 0,3.2 M377.3,880.4 q3,1.6 0,3.2 M377.3,886.8 q3,1.6 0,3.2 M377.3,893.2 q3,1.6 0,3.2" stroke-width="1.2" fill="none"/>
<line x1="381.80" y1="808.50" x2="381.80" y2="898.80" stroke-width="1.8"/>
<polyline points="218.00,903.50 218.00,898.50 267.50,870.50 267.50,875.50" stroke-width="0.9" fill="none"/>
<polyline points="218.00,898.50 216.00,895.50 265.50,867.50 267.50,870.50" stroke-width="0.8" fill="none"/>
<polygon points="218.46,897.93 221.86,895.93 221.26,901.83" fill="#000" stroke="none"/>
<polygon points="222.59,895.60 225.99,893.60 225.39,899.50" fill="#000" stroke="none"/>
<polygon points="226.71,893.27 230.11,891.27 229.51,897.17" fill="#000" stroke="none"/>
<polygon points="230.84,890.93 234.24,888.93 233.64,894.83" fill="#000" stroke="none"/>
<polygon points="234.96,888.60 238.36,886.60 237.76,892.50" fill="#000" stroke="none"/>
<polygon points="239.09,886.27 242.49,884.27 241.89,890.17" fill="#000" stroke="none"/>
<polygon points="243.21,883.93 246.61,881.93 246.01,887.83" fill="#000" stroke="none"/>
<polygon points="247.34,881.60 250.74,879.60 250.14,885.50" fill="#000" stroke="none"/>
<polygon points="251.46,879.27 254.86,877.27 254.26,883.17" fill="#000" stroke="none"/>
<polygon points="255.59,876.93 258.99,874.93 258.39,880.83" fill="#000" stroke="none"/>
<polygon points="259.71,874.60 263.11,872.60 262.51,878.50" fill="#000" stroke="none"/>
<polygon points="263.84,872.27 267.24,870.27 266.64,876.17" fill="#000" stroke="none"/>
<line x1="218.00" y1="903.50" x2="267.50" y2="875.50" stroke-width="1.3"/>
<polyline points="271.00,873.50 271.00,868.50 280.50,863.00 280.50,868.00" stroke-width="0.9" fill="none"/>
<polyline points="271.00,868.50 269.00,865.50 278.50,860.00 280.50,863.00" stroke-width="0.8" fill="none"/>
<polygon points="270.98,868.18 274.38,866.18 273.78,872.08" fill="#000" stroke="none"/>
<polygon points="274.15,866.35 277.55,864.35 276.95,870.25" fill="#000" stroke="none"/>
<polygon points="277.32,864.52 280.72,862.52 280.12,868.42" fill="#000" stroke="none"/>
<line x1="271.00" y1="873.50" x2="280.50" y2="868.00" stroke-width="1.3"/>
<polyline points="286.00,865.00 286.00,860.00 300.50,851.50 300.50,856.50" stroke-width="0.9" fill="none"/>
<polyline points="286.00,860.00 284.00,857.00 298.50,848.50 300.50,851.50" stroke-width="0.8" fill="none"/>
<polygon points="286.21,859.54 289.61,857.54 289.01,863.44" fill="#000" stroke="none"/>
<polygon points="289.84,857.41 293.24,855.41 292.64,861.31" fill="#000" stroke="none"/>
<polygon points="293.46,855.29 296.86,853.29 296.26,859.19" fill="#000" stroke="none"/>
<polygon points="297.09,853.16 300.49,851.16 299.89,857.06" fill="#000" stroke="none"/>
<line x1="286.00" y1="865.00" x2="300.50" y2="856.50" stroke-width="1.3"/>
<polyline points="302.00,853.30 302.00,848.30 330.50,832.00 330.50,837.00" stroke-width="0.9" fill="none"/>
<polyline points="302.00,848.30 300.00,845.30 328.50,829.00 330.50,832.00" stroke-width="0.8" fill="none"/>
<polygon points="302.44,847.74 305.84,845.74 305.24,851.64" fill="#000" stroke="none"/>
<polygon points="306.51,845.41 309.91,843.41 309.31,849.31" fill="#000" stroke="none"/>
<polygon points="310.58,843.08 313.98,841.08 313.38,846.98" fill="#000" stroke="none"/>
<polygon points="314.65,840.75 318.05,838.75 317.45,844.65" fill="#000" stroke="none"/>
<polygon points="318.72,838.42 322.12,836.42 321.52,842.32" fill="#000" stroke="none"/>
<polygon points="322.79,836.09 326.19,834.09 325.59,839.99" fill="#000" stroke="none"/>
<polygon points="326.86,833.76 330.26,831.76 329.66,837.66" fill="#000" stroke="none"/>
<line x1="302.00" y1="853.30" x2="330.50" y2="837.00" stroke-width="1.3"/>
<polyline points="334.00,835.00 334.00,830.00 346.00,823.00 346.00,828.00" stroke-width="0.9" fill="none"/>
<polyline points="334.00,830.00 332.00,827.00 344.00,820.00 346.00,823.00" stroke-width="0.8" fill="none"/>
<polygon points="334.40,829.43 337.80,827.43 337.20,833.33" fill="#000" stroke="none"/>
<polygon points="338.40,827.10 341.80,825.10 341.20,831.00" fill="#000" stroke="none"/>
<polygon points="342.40,824.77 345.80,822.77 345.20,828.67" fill="#000" stroke="none"/>
<line x1="334.00" y1="835.00" x2="346.00" y2="828.00" stroke-width="1.3"/>
<polyline points="348.00,827.00 348.00,822.00 369.20,809.50 369.20,814.50" stroke-width="0.9" fill="none"/>
<polyline points="348.00,822.00 346.00,819.00 367.20,806.50 369.20,809.50" stroke-width="0.8" fill="none"/>
<polygon points="348.17,821.56 351.57,819.56 350.97,825.46" fill="#000" stroke="none"/>
<polygon points="351.70,819.48 355.10,817.48 354.50,823.38" fill="#000" stroke="none"/>
<polygon points="355.23,817.39 358.63,815.39 358.03,821.29" fill="#000" stroke="none"/>
<polygon points="358.77,815.31 362.17,813.31 361.57,819.21" fill="#000" stroke="none"/>
<polygon points="362.30,813.23 365.70,811.23 365.10,817.12" fill="#000" stroke="none"/>
<polygon points="365.83,811.14 369.23,809.14 368.63,815.04" fill="#000" stroke="none"/>
<line x1="348.00" y1="827.00" x2="369.20" y2="814.50" stroke-width="1.3"/>
<polyline points="222.00,917.50 229.35,913.25 237.85,919.25 230.50,923.50 222.00,917.50" stroke-width="0.8" fill="none"/>
<line x1="230.50" y1="923.50" x2="230.50" y2="942.50" stroke-width="0.8"/>
<line x1="223.30" y1="918.00" x2="223.30" y2="905.00" stroke-width="0.8"/>
<line x1="225.70" y1="917.50" x2="225.70" y2="904.50" stroke-width="0.8"/>
<ellipse cx="224.50" cy="918.30" rx="2.8" ry="1.4" stroke-width="0.9" fill="none" transform="rotate(-20 224.50 918.30)"/>
<polyline points="229.35,913.25 236.70,909.00 245.20,915.00 237.85,919.25 229.35,913.25" stroke-width="0.8" fill="none"/>
<line x1="237.85" y1="919.25" x2="237.85" y2="937.95" stroke-width="0.8"/>
<line x1="230.65" y1="913.75" x2="230.65" y2="900.75" stroke-width="0.8"/>
<line x1="233.05" y1="913.25" x2="233.05" y2="900.25" stroke-width="0.8"/>
<ellipse cx="231.85" cy="914.05" rx="2.8" ry="1.4" stroke-width="0.9" fill="none" transform="rotate(-20 231.85 914.05)"/>
<polyline points="236.70,909.00 244.05,904.75 252.55,910.75 245.20,915.00 236.70,909.00" stroke-width="0.8" fill="none"/>
<line x1="245.20" y1="915.00" x2="245.20" y2="933.40" stroke-width="0.8"/>
<line x1="238.00" y1="909.50" x2="238.00" y2="896.50" stroke-width="0.8"/>
<line x1="240.40" y1="909.00" x2="240.40" y2="896.00" stroke-width="0.8"/>
<ellipse cx="239.20" cy="909.80" rx="2.8" ry="1.4" stroke-width="0.9" fill="none" transform="rotate(-20 239.20 909.80)"/>
<polyline points="244.05,904.75 251.40,900.50 259.90,906.50 252.55,910.75 244.05,904.75" stroke-width="0.8" fill="none"/>
<line x1="252.55" y1="910.75" x2="252.55" y2="928.85" stroke-width="0.8"/>
<line x1="245.35" y1="905.25" x2="245.35" y2="892.25" stroke-width="0.8"/>
<line x1="247.75" y1="904.75" x2="247.75" y2="891.75" stroke-width="0.8"/>
<ellipse cx="246.55" cy="905.55" rx="2.8" ry="1.4" stroke-width="0.9" fill="none" transform="rotate(-20 246.55 905.55)"/>
<polyline points="251.40,900.50 258.75,896.25 267.25,902.25 259.90,906.50 251.40,900.50" stroke-width="0.8" fill="none"/>
<line x1="259.90" y1="906.50" x2="259.90" y2="924.30" stroke-width="0.8"/>
<line x1="252.70" y1="901.00" x2="252.70" y2="888.00" stroke-width="0.8"/>
<line x1="255.10" y1="900.50" x2="255.10" y2="887.50" stroke-width="0.8"/>
<ellipse cx="253.90" cy="901.30" rx="2.8" ry="1.4" stroke-width="0.9" fill="none" transform="rotate(-20 253.90 901.30)"/>
<polyline points="258.75,896.25 266.10,892.00 274.60,898.00 267.25,902.25 258.75,896.25" stroke-width="0.8" fill="none"/>
<line x1="267.25" y1="902.25" x2="267.25" y2="919.75" stroke-width="0.8"/>
<line x1="260.05" y1="896.75" x2="260.05" y2="883.75" stroke-width="0.8"/>
<line x1="262.45" y1="896.25" x2="262.45" y2="883.25" stroke-width="0.8"/>
<ellipse cx="261.25" cy="897.05" rx="2.8" ry="1.4" stroke-width="0.9" fill="none" transform="rotate(-20 261.25 897.05)"/>
<polyline points="266.10,892.00 273.45,887.75 281.95,893.75 274.60,898.00 266.10,892.00" stroke-width="0.8" fill="none"/>
<line x1="274.60" y1="898.00" x2="274.60" y2="915.20" stroke-width="0.8"/>
<line x1="267.40" y1="892.50" x2="267.40" y2="879.50" stroke-width="0.8"/>
<line x1="269.80" y1="892.00" x2="269.80" y2="879.00" stroke-width="0.8"/>
<ellipse cx="268.60" cy="892.80" rx="2.8" ry="1.4" stroke-width="0.9" fill="none" transform="rotate(-20 268.60 892.80)"/>
<polyline points="273.45,887.75 280.80,883.50 289.30,889.50 281.95,893.75 273.45,887.75" stroke-width="0.8" fill="none"/>
<line x1="281.95" y1="893.75" x2="281.95" y2="910.65" stroke-width="0.8"/>
<line x1="274.75" y1="888.25" x2="274.75" y2="875.25" stroke-width="0.8"/>
<line x1="277.15" y1="887.75" x2="277.15" y2="874.75" stroke-width="0.8"/>
<ellipse cx="275.95" cy="888.55" rx="2.8" ry="1.4" stroke-width="0.9" fill="none" transform="rotate(-20 275.95 888.55)"/>
<polyline points="280.80,883.50 288.15,879.25 296.65,885.25 289.30,889.50 280.80,883.50" stroke-width="0.8" fill="none"/>
<line x1="289.30" y1="889.50" x2="289.30" y2="906.10" stroke-width="0.8"/>
<line x1="282.10" y1="884.00" x2="282.10" y2="871.00" stroke-width="0.8"/>
<line x1="284.50" y1="883.50" x2="284.50" y2="870.50" stroke-width="0.8"/>
<ellipse cx="283.30" cy="884.30" rx="2.8" ry="1.4" stroke-width="0.9" fill="none" transform="rotate(-20 283.30 884.30)"/>
<line x1="217.30" y1="913.00" x2="217.30" y2="948.00" stroke-width="0.8"/>
<polyline points="217.30,913.00 222.00,917.50" stroke-width="0.8" fill="none"/>
<line x1="230.50" y1="923.50" x2="296.65" y2="885.25" stroke-width="0.8"/>
<polyline points="305.30,873.80 312.30,869.70 304.80,865.50 297.80,869.60 305.30,873.80" stroke-width="0.8" fill="none"/>
<line x1="305.30" y1="873.80" x2="305.30" y2="895.30" stroke-width="0.8"/>
<line x1="300.90" y1="870.40" x2="300.90" y2="857.40" stroke-width="0.8"/>
<line x1="303.30" y1="869.90" x2="303.30" y2="856.90" stroke-width="0.8"/>
<ellipse cx="302.10" cy="870.70" rx="2.8" ry="1.4" stroke-width="0.9" fill="none" transform="rotate(-20 302.10 870.70)"/>
<polyline points="312.30,869.70 319.30,865.60 311.80,861.40 304.80,865.50 312.30,869.70" stroke-width="0.8" fill="none"/>
<line x1="312.30" y1="869.70" x2="312.30" y2="891.20" stroke-width="0.8"/>
<line x1="307.90" y1="866.30" x2="307.90" y2="853.30" stroke-width="0.8"/>
<line x1="310.30" y1="865.80" x2="310.30" y2="852.80" stroke-width="0.8"/>
<ellipse cx="309.10" cy="866.60" rx="2.8" ry="1.4" stroke-width="0.9" fill="none" transform="rotate(-20 309.10 866.60)"/>
<polyline points="319.30,865.60 326.30,861.50 318.80,857.30 311.80,861.40 319.30,865.60" stroke-width="0.8" fill="none"/>
<line x1="319.30" y1="865.60" x2="319.30" y2="887.10" stroke-width="0.8"/>
<line x1="314.90" y1="862.20" x2="314.90" y2="849.20" stroke-width="0.8"/>
<line x1="317.30" y1="861.70" x2="317.30" y2="848.70" stroke-width="0.8"/>
<ellipse cx="316.10" cy="862.50" rx="2.8" ry="1.4" stroke-width="0.9" fill="none" transform="rotate(-20 316.10 862.50)"/>
<polyline points="326.30,861.50 333.30,857.40 325.80,853.20 318.80,857.30 326.30,861.50" stroke-width="0.8" fill="none"/>
<line x1="326.30" y1="861.50" x2="326.30" y2="885.50" stroke-width="0.8"/>
<line x1="321.90" y1="858.10" x2="321.90" y2="845.10" stroke-width="0.8"/>
<line x1="324.30" y1="857.60" x2="324.30" y2="844.60" stroke-width="0.8"/>
<ellipse cx="323.10" cy="858.40" rx="2.8" ry="1.4" stroke-width="0.9" fill="none" transform="rotate(-20 323.10 858.40)"/>
<line x1="297.80" y1="869.60" x2="297.80" y2="891.00" stroke-width="0.8"/>
<line x1="333.30" y1="857.40" x2="333.30" y2="880.00" stroke-width="0.8"/>
<polyline points="305.30,895.30 333.30,879.00 340.50,883.00 340.50,861.00" stroke-width="0.8" fill="none"/>
<polyline points="297.80,891.00 305.30,895.30" stroke-width="0.8" fill="none"/>
<ellipse cx="358.20" cy="862.50" rx="5.4" ry="7.8" stroke-width="1.1" fill="none" transform="rotate(-25 358.20 862.50)"/>
<ellipse cx="358.80" cy="862.00" rx="4" ry="6" stroke-width="0.8" fill="none" transform="rotate(-25 358.80 862.00)"/>
<path d="M354.5,855.5 L339,845.5 Q334,844 334,849 Q334,852 336,853.5 L352,868.5" stroke-width="0.9" fill="none"/>
<polyline points="344.00,843.50 348.00,841.50 356.00,846.00" stroke-width="0.8" fill="none"/>
<polyline points="349.40,876.00 354.30,874.30 354.30,884.00 349.40,886.00 349.40,876.00" stroke-width="0.9" fill="none"/>
<polyline points="291.60,917.00 300.20,912.30 300.20,929.50 291.60,934.20 291.60,917.00" stroke-width="0.8" fill="none"/>
<polyline points="291.60,917.00 290.10,915.00 298.70,910.30 300.20,912.30" stroke-width="0.7" fill="none"/>
<line x1="293.10" y1="917.50" x2="293.10" y2="933.50" stroke-width="0.6"/>
<polyline points="300.20,912.30 308.80,907.60 308.80,924.80 300.20,929.50 300.20,912.30" stroke-width="0.8" fill="none"/>
<polyline points="300.20,912.30 298.70,910.30 307.30,905.60 308.80,907.60" stroke-width="0.7" fill="none"/>
<line x1="301.70" y1="912.80" x2="301.70" y2="928.80" stroke-width="0.6"/>
<polyline points="308.80,907.60 317.40,902.90 317.40,920.10 308.80,924.80 308.80,907.60" stroke-width="0.8" fill="none"/>
<polyline points="308.80,907.60 307.30,905.60 315.90,900.90 317.40,902.90" stroke-width="0.7" fill="none"/>
<line x1="310.30" y1="908.10" x2="310.30" y2="924.10" stroke-width="0.6"/>
<polyline points="317.40,902.90 326.00,898.20 326.00,915.40 317.40,920.10 317.40,902.90" stroke-width="0.8" fill="none"/>
<polyline points="317.40,902.90 315.90,900.90 324.50,896.20 326.00,898.20" stroke-width="0.7" fill="none"/>
<line x1="318.90" y1="903.40" x2="318.90" y2="919.40" stroke-width="0.6"/>
<polyline points="326.00,898.20 334.60,893.50 334.60,910.70 326.00,915.40 326.00,898.20" stroke-width="0.8" fill="none"/>
<polyline points="326.00,898.20 324.50,896.20 333.10,891.50 334.60,893.50" stroke-width="0.7" fill="none"/>
<line x1="327.50" y1="898.70" x2="327.50" y2="914.70" stroke-width="0.6"/>
<polyline points="334.60,893.50 343.20,888.80 343.20,906.00 334.60,910.70 334.60,893.50" stroke-width="0.8" fill="none"/>
<polyline points="334.60,893.50 333.10,891.50 341.70,886.80 343.20,888.80" stroke-width="0.7" fill="none"/>
<line x1="336.10" y1="894.00" x2="336.10" y2="910.00" stroke-width="0.6"/>
<ellipse cx="284.40" cy="926.80" rx="5.5" ry="8" stroke-width="0.9" fill="none" transform="rotate(-20 284.40 926.80)"/>
<ellipse cx="328.00" cy="921.50" rx="3.6" ry="4.8" stroke-width="0.9" fill="none" transform="rotate(-20 328.00 921.50)"/>
<path d="M326,917 L321,919.5 Q318,922 321,925.5 L327,926" stroke-width="0.9" fill="none"/>
<path d="M348,903 Q346,893 354,893 Q362,896 362,905 Q362,913 357,915 Q350,913 348,903 Z" stroke-width="0.9" fill="none"/>
<polyline points="352.00,897.00 355.00,894.00 357.00,898.00 356.00,906.00" stroke-width="0.8" fill="none"/>
<ellipse cx="364.60" cy="901.80" rx="2" ry="2.6" stroke-width="0.8" fill="none"/>
<line x1="362.00" y1="905.00" x2="367.00" y2="899.00" stroke-width="0.7"/>
<polyline points="316.80,937.00 325.00,932.00 330.00,935.00 330.00,940.00 322.00,944.40 316.80,941.50 316.80,937.00" stroke-width="1.0" fill="none"/>
<polyline points="322.00,939.00 328.00,936.00" stroke-width="1.2" fill="none"/>
<ellipse cx="237.00" cy="940.00" rx="2.8" ry="4" stroke-width="0.9" fill="none" transform="rotate(25 237.00 940.00)"/>
<ellipse cx="244.50" cy="935.70" rx="2.8" ry="4" stroke-width="0.9" fill="none" transform="rotate(25 244.50 935.70)"/>
<ellipse cx="252.00" cy="931.40" rx="2.8" ry="4" stroke-width="0.9" fill="none" transform="rotate(25 252.00 931.40)"/>
<ellipse cx="259.50" cy="927.10" rx="2.8" ry="4" stroke-width="0.9" fill="none" transform="rotate(25 259.50 927.10)"/>
<polyline points="210.90,929.00 218.00,925.30 221.20,928.00 221.20,937.00 213.00,940.00 210.90,938.00 210.90,929.00" stroke-width="0.9" fill="none"/>
<line x1="214.00" y1="931.00" x2="220.00" y2="928.00" stroke-width="0.9"/>
<line x1="214.00" y1="933.00" x2="220.00" y2="930.00" stroke-width="0.9"/>
<line x1="214.00" y1="935.00" x2="220.00" y2="932.00" stroke-width="0.9"/>
<line x1="214.00" y1="937.00" x2="220.00" y2="934.00" stroke-width="0.9"/>
<ellipse cx="220.00" cy="949.00" rx="6" ry="7" stroke-width="1.0" fill="none" transform="rotate(-20 220.00 949.00)"/>
<ellipse cx="218.00" cy="950.00" rx="4.5" ry="6" stroke-width="0.8" fill="none" transform="rotate(-20 218.00 950.00)"/>
<polyline points="263.10,941.00 270.00,938.50 273.40,940.00 273.40,968.00 266.00,972.00 263.10,970.00 263.10,941.00" stroke-width="1.2" fill="none"/>
<line x1="265.50" y1="942.00" x2="265.50" y2="970.00" stroke-width="1.6"/>
<line x1="271.50" y1="940.00" x2="271.50" y2="968.00" stroke-width="1.6"/>
<line x1="266.00" y1="955.00" x2="271.00" y2="952.00" stroke-width="0.8"/>
<polyline points="274.10,943.00 281.50,940.70 281.50,955.00 274.10,957.60 274.10,943.00" stroke-width="0.8" fill="none"/>
<ellipse cx="255.00" cy="953.00" rx="3.5" ry="5" stroke-width="0.8" fill="none" transform="rotate(-20 255.00 953.00)"/>
<ellipse cx="293.20" cy="943.00" rx="1.5" ry="1.5" stroke-width="0.8" fill="none"/>
<ellipse cx="300.00" cy="938.00" rx="2.2" ry="2.8" stroke-width="0.7" fill="none" transform="rotate(20 300.00 938.00)"/>
<ellipse cx="304.50" cy="935.50" rx="2.2" ry="2.8" stroke-width="0.7" fill="none" transform="rotate(20 304.50 935.50)"/>
<ellipse cx="309.00" cy="933.00" rx="2.2" ry="2.8" stroke-width="0.7" fill="none" transform="rotate(20 309.00 933.00)"/>
<polyline points="210.90,959.10 236.60,949.60 254.30,957.60 227.00,966.50 210.90,959.10" stroke-width="0.9" fill="none"/>
<polyline points="219.70,966.50 219.70,1003.20 231.50,1005.40 254.30,991.50 254.30,957.60" stroke-width="1.1" fill="none"/>
<line x1="227.00" y1="966.50" x2="231.50" y2="969.00" stroke-width="0.8"/>
<line x1="231.50" y1="969.00" x2="231.50" y2="1005.40" stroke-width="0.8"/>
<path d="M235,972 Q235,968 240,966 L250,961 Q253.5,961 253.5,965 L253.5,990 L238,999 Q235,1000 235,996 Z" stroke-width="0.9" fill="none"/>
<polyline points="237.00,972.00 251.00,964.00" stroke-width="0.7" fill="none"/>
<polyline points="212.00,965.00 216.00,963.00 216.00,978.00 212.00,980.00" stroke-width="0.8" fill="none"/>
<ellipse cx="214.00" cy="969.00" rx="1.2" ry="2" stroke-width="0.8" fill="#000"/>
<line x1="218.60" y1="967.00" x2="218.60" y2="1035.00" stroke-width="1.2" stroke-dasharray="6,4" stroke-linecap="butt"/>
<polyline points="283.80,958.80 321.30,977.50 355.00,959.50 355.00,1052.50 304.50,1080.00 304.50,986.30 313.00,982.50 283.80,958.80" stroke-width="1.0" fill="none"/>
<text x="331.5" y="990.5" text-anchor="middle" style="font-size:12.5px">UP</text>
<path d="M331,993.5 L331,998 L329,998 L332.5,1002 L336,998 L334,998 L334,993.5 Z" stroke-width="0.7" fill="none"/>
<path d="M325.3,1012 L331.5,1008.5 Q333,1012.5 336.5,1006.5 L342.9,1002.7 L342.9,1052.2 L327.3,1060.4 L325.3,1059 Z" stroke-width="1.0" fill="none"/>
<line x1="327.80" y1="1011.30" x2="327.80" y2="1060.00" stroke-width="0.7"/>
<polyline points="325.00,1008.00 320.50,1009.80 320.50,1011.20 325.00,1009.40" stroke-width="0.9" fill="#000"/>
<polyline points="325.00,1011.15 320.50,1012.95 320.50,1014.35 325.00,1012.55" stroke-width="0.9" fill="#000"/>
<polyline points="325.00,1014.30 320.50,1016.10 320.50,1017.50 325.00,1015.70" stroke-width="0.9" fill="#000"/>
<polyline points="325.00,1017.45 320.50,1019.25 320.50,1020.65 325.00,1018.85" stroke-width="0.9" fill="#000"/>
<polyline points="325.00,1020.60 320.50,1022.40 320.50,1023.80 325.00,1022.00" stroke-width="0.9" fill="#000"/>
<polyline points="325.00,1023.75 320.50,1025.55 320.50,1026.95 325.00,1025.15" stroke-width="0.9" fill="#000"/>
<polyline points="325.00,1026.90 320.50,1028.70 320.50,1030.10 325.00,1028.30" stroke-width="0.9" fill="#000"/>
<polyline points="325.00,1030.05 320.50,1031.85 320.50,1033.25 325.00,1031.45" stroke-width="0.9" fill="#000"/>
<polyline points="325.00,1033.20 320.50,1035.00 320.50,1036.40 325.00,1034.60" stroke-width="0.9" fill="#000"/>
<polyline points="325.00,1036.35 320.50,1038.15 320.50,1039.55 325.00,1037.75" stroke-width="0.9" fill="#000"/>
<polyline points="325.00,1039.50 320.50,1041.30 320.50,1042.70 325.00,1040.90" stroke-width="0.9" fill="#000"/>
<polyline points="325.00,1042.65 320.50,1044.45 320.50,1045.85 325.00,1044.05" stroke-width="0.9" fill="#000"/>
<polyline points="325.00,1045.80 320.50,1047.60 320.50,1049.00 325.00,1047.20" stroke-width="0.9" fill="#000"/>
<polyline points="325.00,1048.95 320.50,1050.75 320.50,1052.15 325.00,1050.35" stroke-width="0.9" fill="#000"/>
<polyline points="325.00,1052.10 320.50,1053.90 320.50,1055.30 325.00,1053.50" stroke-width="0.9" fill="#000"/>
<polyline points="325.00,1055.25 320.50,1057.05 320.50,1058.45 325.00,1056.65" stroke-width="0.9" fill="#000"/>
<polyline points="325.00,1058.40 320.50,1060.20 320.50,1061.60 325.00,1059.80" stroke-width="0.9" fill="#000"/>
<polyline points="218.80,1025.00 251.30,1041.30" stroke-width="1.0" fill="none"/>
<polyline points="218.80,1025.00 251.30,1048.80" stroke-width="1.0" fill="none"/>
<polyline points="251.30,1041.30 251.30,1030.00 279.30,1014.50 279.30,1077.00 251.30,1093.00 251.30,1048.80" stroke-width="1.0" fill="none"/>
<polyline points="262.50,1040.00 262.50,1074.00 267.50,1075.00 267.50,1040.00" stroke-width="0.9" fill="none"/>
<ellipse cx="265.00" cy="1040.00" rx="2.5" ry="1.5" stroke-width="0.9" fill="none"/>
<line x1="262.50" y1="1052.00" x2="267.50" y2="1052.00" stroke-width="0.6"/>
<line x1="262.50" y1="1062.00" x2="267.50" y2="1062.00" stroke-width="0.6"/>
<polyline points="518.00,1001.20 711.30,1001.20 711.30,1127.40 506.50,1127.40 506.50,1001.20 509.00,1001.20" stroke-width="2.0" fill="none"/>
<polyline points="567.80,1009.40 695.30,1078.30 669.90,1123.30 625.00,1098.80 646.20,1061.20 604.60,1037.50 577.60,1079.10 538.40,1055.50 567.80,1009.40" stroke-width="2.0" fill="none"/>
<line x1="684.60" y1="1102.80" x2="727.80" y2="1126.80" stroke-width="1.6"/>
<line x1="529.40" y1="1043.20" x2="557.00" y2="1058.00" stroke-width="1.0" stroke-dasharray="5,3" stroke-linecap="butt"/>
<line x1="580.00" y1="1064.00" x2="600.00" y2="1074.00" stroke-width="1.0" stroke-dasharray="5,3" stroke-linecap="butt"/>
<line x1="620.00" y1="1076.00" x2="636.00" y2="1084.00" stroke-width="1.0" stroke-dasharray="5,3" stroke-linecap="butt"/>
<polyline points="513.40,1012.97 513.40,1034.22 529.41,1043.20 536.76,1038.79 536.76,1017.88 521.24,1010.03 513.40,1012.97" stroke-width="1.1" fill="none"/>
<polyline points="513.40,1012.97 529.41,1021.14 536.76,1017.88" stroke-width="0.9" fill="none"/>
<line x1="529.41" y1="1021.14" x2="529.41" y2="1043.20" stroke-width="0.9"/>
<polyline points="517.16,1013.79 517.16,1017.06 531.05,1024.08 533.50,1022.78 533.50,1019.51" stroke-width="0.8" fill="none"/>
<polyline points="520.42,1012.16 520.42,1014.61 532.68,1020.82" stroke-width="0.8" fill="none"/>
<polyline points="513.40,1023.59 515.52,1024.74 515.52,1026.86 513.40,1026.05" stroke-width="0.8" fill="none"/>
<polyline points="529.41,1039.12 531.86,1037.81 531.86,1040.75" stroke-width="0.8" fill="none"/>
<ellipse cx="529.08" cy="1032.58" rx="2.6" ry="1.8" stroke-width="0.8" fill="none" transform="rotate(-20 529.08 1032.58)"/>
<ellipse cx="532.68" cy="1031.76" rx="2.2" ry="1.6" stroke-width="0.8" fill="none" transform="rotate(-20 532.68 1031.76)"/>
<path d="M557.2,1027 L563,1024.4 L586,1037 L587.4,1067 L582,1070.2 L570,1064 L557.2,1057 Z" stroke-width="1.0" fill="none"/>
<polyline points="557.20,1027.00 570.00,1035.00 586.00,1037.00" stroke-width="0.8" fill="none"/>
<polyline points="563.00,1038.00 568.00,1036.00 580.00,1043.00 580.00,1068.00" stroke-width="0.9" fill="none"/>
<polyline points="563.00,1038.00 563.00,1060.00 570.00,1064.00" stroke-width="0.9" fill="none"/>
<ellipse cx="580.00" cy="1052.00" rx="6" ry="9" stroke-width="0.9" fill="none" transform="rotate(20 580.00 1052.00)"/>
<polyline points="562.00,1030.00 566.00,1028.00 578.00,1035.00" stroke-width="0.7" fill="none"/>
<ellipse cx="609.50" cy="1070.20" rx="16.5" ry="22" stroke-width="1.1" fill="none" transform="rotate(28 609.50 1070.20)"/>
<ellipse cx="612.00" cy="1069.50" rx="7" ry="10.5" stroke-width="1.0" fill="none" transform="rotate(28 612.00 1069.50)"/>
<ellipse cx="666.34" cy="1100.39" rx="12.3" ry="15.5" stroke-width="1.1" fill="none" transform="rotate(28 666.34 1100.39)"/>
<path d="M663.40,1085.20 Q656.86,1081.60 647.88,1084.05 L642.16,1086.50 M642.16,1101.21 L647.88,1107.75 Q653.59,1115.10 660.95,1115.92" stroke-width="1.0" fill="none"/>
<line x1="653.59" y1="1084.05" x2="654.41" y2="1111.83" stroke-width="0.8"/>
<ellipse cx="641.83" cy="1093.04" rx="3.4" ry="7.2" stroke-width="0.9" fill="none" transform="rotate(20 641.83 1093.04)"/>
<ellipse cx="638.89" cy="1090.59" rx="2.4" ry="6.5" stroke-width="0.9" fill="none" transform="rotate(20 638.89 1090.59)"/>
<line x1="637.25" y1="1081.60" x2="642.48" y2="1084.05" stroke-width="0.8"/>
<line x1="638.07" y1="1101.21" x2="642.16" y2="1102.84" stroke-width="0.8"/>
<path d="M661.76,1093.04 Q665.03,1088.95 669.93,1091.41 M673.20,1096.31 L674.02,1102.84 M669.93,1111.01 Q663.40,1112.65 661.76,1107.75" stroke-width="1.0" fill="none"/>
<ellipse cx="666.34" cy="1100.39" rx="9.5" ry="12.5" stroke-width="0.6" fill="none" transform="rotate(28 666.34 1100.39)"/>
<polyline points="929.60,920.70 929.60,835.30 998.90,794.80 999.60,798.50" stroke-width="1.1" fill="none"/>
<text x="999.5" y="806.0" text-anchor="middle" transform="translate(999.5 806.0) scale(0.85 1) translate(-999.5 -806.0)" style="font-size:9px;font-weight:bold">1</text>
<text x="999.5" y="815.9" text-anchor="middle" transform="translate(999.5 815.9) scale(0.85 1) translate(-999.5 -815.9)" style="font-size:9px;font-weight:bold">2</text>
<text x="999.5" y="825.8" text-anchor="middle" transform="translate(999.5 825.8) scale(0.85 1) translate(-999.5 -825.8)" style="font-size:9px;font-weight:bold">3</text>
<text x="999.5" y="835.7" text-anchor="middle" transform="translate(999.5 835.7) scale(0.85 1) translate(-999.5 -835.7)" style="font-size:9px;font-weight:bold">4</text>
<text x="999.5" y="845.6" text-anchor="middle" transform="translate(999.5 845.6) scale(0.85 1) translate(-999.5 -845.6)" style="font-size:9px;font-weight:bold">5</text>
<text x="999.5" y="855.5" text-anchor="middle" transform="translate(999.5 855.5) scale(0.85 1) translate(-999.5 -855.5)" style="font-size:9px;font-weight:bold">6</text>
<text x="999.5" y="865.4" text-anchor="middle" transform="translate(999.5 865.4) scale(0.85 1) translate(-999.5 -865.4)" style="font-size:9px;font-weight:bold">7</text>
<text x="999.5" y="875.3" text-anchor="middle" transform="translate(999.5 875.3) scale(0.85 1) translate(-999.5 -875.3)" style="font-size:9px;font-weight:bold">8</text>
<text x="999.5" y="885.2" text-anchor="middle" transform="translate(999.5 885.2) scale(0.85 1) translate(-999.5 -885.2)" style="font-size:9px;font-weight:bold">9</text>
<line x1="973.90" y1="822.40" x2="1017.30" y2="798.96" stroke-width="1.5"/>
<line x1="973.90" y1="832.10" x2="1017.30" y2="808.66" stroke-width="1.5"/>
<line x1="973.90" y1="842.00" x2="1017.30" y2="818.56" stroke-width="1.5"/>
<line x1="973.90" y1="852.30" x2="1017.30" y2="828.86" stroke-width="1.5"/>
<line x1="973.90" y1="862.20" x2="1017.30" y2="838.76" stroke-width="1.5"/>
<line x1="973.90" y1="872.10" x2="1017.30" y2="848.66" stroke-width="1.5"/>
<line x1="973.90" y1="882.50" x2="1017.30" y2="859.06" stroke-width="1.5"/>
<line x1="973.90" y1="892.30" x2="1017.30" y2="868.86" stroke-width="1.5"/>
<path d="M984,807.2 Q984.5,812.5 987,812.0 Q989.8,811.2 990.2,805.7" stroke-width="0.9" fill="none"/>
<line x1="984.70" y1="808.90" x2="989.80" y2="806.50" stroke-width="0.7"/>
<line x1="985.00" y1="810.60" x2="989.80" y2="808.20" stroke-width="0.7"/>
<ellipse cx="987.30" cy="807.20" rx="0.8" ry="0.8" stroke-width="0.6" fill="none"/>
<path d="M984,817.3000000000001 Q984.5,822.6 987,822.1 Q989.8,821.3000000000001 990.2,815.8000000000001" stroke-width="0.9" fill="none"/>
<line x1="984.70" y1="819.00" x2="989.80" y2="816.60" stroke-width="0.7"/>
<line x1="985.00" y1="820.70" x2="989.80" y2="818.30" stroke-width="0.7"/>
<ellipse cx="987.30" cy="817.30" rx="0.8" ry="0.8" stroke-width="0.6" fill="none"/>
<path d="M984,827.4000000000001 Q984.5,832.7 987,832.2 Q989.8,831.4000000000001 990.2,825.9000000000001" stroke-width="0.9" fill="none"/>
<line x1="984.70" y1="829.10" x2="989.80" y2="826.70" stroke-width="0.7"/>
<line x1="985.00" y1="830.80" x2="989.80" y2="828.40" stroke-width="0.7"/>
<ellipse cx="987.30" cy="827.40" rx="0.8" ry="0.8" stroke-width="0.6" fill="none"/>
<path d="M984,837.5 Q984.5,842.8 987,842.3 Q989.8,841.5 990.2,836.0" stroke-width="0.9" fill="none"/>
<line x1="984.70" y1="839.20" x2="989.80" y2="836.80" stroke-width="0.7"/>
<line x1="985.00" y1="840.90" x2="989.80" y2="838.50" stroke-width="0.7"/>
<ellipse cx="987.30" cy="837.50" rx="0.8" ry="0.8" stroke-width="0.6" fill="none"/>
<path d="M984,847.6 Q984.5,852.9 987,852.4 Q989.8,851.6 990.2,846.1" stroke-width="0.9" fill="none"/>
<line x1="984.70" y1="849.30" x2="989.80" y2="846.90" stroke-width="0.7"/>
<line x1="985.00" y1="851.00" x2="989.80" y2="848.60" stroke-width="0.7"/>
<ellipse cx="987.30" cy="847.60" rx="0.8" ry="0.8" stroke-width="0.6" fill="none"/>
<path d="M984,857.7 Q984.5,863.0 987,862.5 Q989.8,861.7 990.2,856.2" stroke-width="0.9" fill="none"/>
<line x1="984.70" y1="859.40" x2="989.80" y2="857.00" stroke-width="0.7"/>
<line x1="985.00" y1="861.10" x2="989.80" y2="858.70" stroke-width="0.7"/>
<ellipse cx="987.30" cy="857.70" rx="0.8" ry="0.8" stroke-width="0.6" fill="none"/>
<path d="M984,867.8000000000001 Q984.5,873.1 987,872.6 Q989.8,871.8000000000001 990.2,866.3000000000001" stroke-width="0.9" fill="none"/>
<line x1="984.70" y1="869.50" x2="989.80" y2="867.10" stroke-width="0.7"/>
<line x1="985.00" y1="871.20" x2="989.80" y2="868.80" stroke-width="0.7"/>
<ellipse cx="987.30" cy="867.80" rx="0.8" ry="0.8" stroke-width="0.6" fill="none"/>
<path d="M984,877.9000000000001 Q984.5,883.2 987,882.7 Q989.8,881.9000000000001 990.2,876.4000000000001" stroke-width="0.9" fill="none"/>
<line x1="984.70" y1="879.60" x2="989.80" y2="877.20" stroke-width="0.7"/>
<line x1="985.00" y1="881.30" x2="989.80" y2="878.90" stroke-width="0.7"/>
<ellipse cx="987.30" cy="877.90" rx="0.8" ry="0.8" stroke-width="0.6" fill="none"/>
<path d="M984,888.0 Q984.5,893.3 987,892.8 Q989.8,892.0 990.2,886.5" stroke-width="0.9" fill="none"/>
<line x1="984.70" y1="889.70" x2="989.80" y2="887.30" stroke-width="0.7"/>
<line x1="985.00" y1="891.40" x2="989.80" y2="889.00" stroke-width="0.7"/>
<ellipse cx="987.30" cy="888.00" rx="0.8" ry="0.8" stroke-width="0.6" fill="none"/>
<path d="M974.5,813.0 Q975.0,818.3 977.5,817.8 Q980.3,817.0 980.7,811.5" stroke-width="0.9" fill="none"/>
<line x1="975.20" y1="814.70" x2="980.30" y2="812.30" stroke-width="0.7"/>
<line x1="975.50" y1="816.40" x2="980.30" y2="814.00" stroke-width="0.7"/>
<ellipse cx="977.80" cy="813.00" rx="0.8" ry="0.8" stroke-width="0.6" fill="none"/>
<path d="M974.5,823.07 Q975.0,828.37 977.5,827.87 Q980.3,827.07 980.7,821.57" stroke-width="0.9" fill="none"/>
<line x1="975.20" y1="824.77" x2="980.30" y2="822.37" stroke-width="0.7"/>
<line x1="975.50" y1="826.47" x2="980.30" y2="824.07" stroke-width="0.7"/>
<ellipse cx="977.80" cy="823.07" rx="0.8" ry="0.8" stroke-width="0.6" fill="none"/>
<path d="M974.5,833.14 Q975.0,838.4399999999999 977.5,837.9399999999999 Q980.3,837.14 980.7,831.64" stroke-width="0.9" fill="none"/>
<line x1="975.20" y1="834.84" x2="980.30" y2="832.44" stroke-width="0.7"/>
<line x1="975.50" y1="836.54" x2="980.30" y2="834.14" stroke-width="0.7"/>
<ellipse cx="977.80" cy="833.14" rx="0.8" ry="0.8" stroke-width="0.6" fill="none"/>
<path d="M974.5,843.21 Q975.0,848.51 977.5,848.01 Q980.3,847.21 980.7,841.71" stroke-width="0.9" fill="none"/>
<line x1="975.20" y1="844.91" x2="980.30" y2="842.51" stroke-width="0.7"/>
<line x1="975.50" y1="846.61" x2="980.30" y2="844.21" stroke-width="0.7"/>
<ellipse cx="977.80" cy="843.21" rx="0.8" ry="0.8" stroke-width="0.6" fill="none"/>
<path d="M974.5,853.28 Q975.0,858.5799999999999 977.5,858.0799999999999 Q980.3,857.28 980.7,851.78" stroke-width="0.9" fill="none"/>
<line x1="975.20" y1="854.98" x2="980.30" y2="852.58" stroke-width="0.7"/>
<line x1="975.50" y1="856.68" x2="980.30" y2="854.28" stroke-width="0.7"/>
<ellipse cx="977.80" cy="853.28" rx="0.8" ry="0.8" stroke-width="0.6" fill="none"/>
<path d="M974.5,863.35 Q975.0,868.65 977.5,868.15 Q980.3,867.35 980.7,861.85" stroke-width="0.9" fill="none"/>
<line x1="975.20" y1="865.05" x2="980.30" y2="862.65" stroke-width="0.7"/>
<line x1="975.50" y1="866.75" x2="980.30" y2="864.35" stroke-width="0.7"/>
<ellipse cx="977.80" cy="863.35" rx="0.8" ry="0.8" stroke-width="0.6" fill="none"/>
<path d="M974.5,873.42 Q975.0,878.7199999999999 977.5,878.2199999999999 Q980.3,877.42 980.7,871.92" stroke-width="0.9" fill="none"/>
<line x1="975.20" y1="875.12" x2="980.30" y2="872.72" stroke-width="0.7"/>
<line x1="975.50" y1="876.82" x2="980.30" y2="874.42" stroke-width="0.7"/>
<ellipse cx="977.80" cy="873.42" rx="0.8" ry="0.8" stroke-width="0.6" fill="none"/>
<path d="M974.5,883.49 Q975.0,888.79 977.5,888.29 Q980.3,887.49 980.7,881.99" stroke-width="0.9" fill="none"/>
<line x1="975.20" y1="885.19" x2="980.30" y2="882.79" stroke-width="0.7"/>
<line x1="975.50" y1="886.89" x2="980.30" y2="884.49" stroke-width="0.7"/>
<ellipse cx="977.80" cy="883.49" rx="0.8" ry="0.8" stroke-width="0.6" fill="none"/>
<ellipse cx="1012.70" cy="797.00" rx="4.2" ry="2.8" stroke-width="1.0" fill="none" transform="rotate(-30 1012.70 797.00)"/>
<line x1="1006.40" y1="798.60" x2="1013.40" y2="793.60" stroke-width="0.7"/>
<line x1="1007.60" y1="798.90" x2="1014.60" y2="793.90" stroke-width="0.7"/>
<line x1="1008.80" y1="799.20" x2="1015.80" y2="794.20" stroke-width="0.7"/>
<line x1="1010.00" y1="799.50" x2="1017.00" y2="794.50" stroke-width="0.7"/>
<line x1="1011.20" y1="799.80" x2="1018.20" y2="794.80" stroke-width="0.7"/>
<line x1="1007.50" y1="799.00" x2="1018.00" y2="792.50" stroke-width="0.7"/>
<ellipse cx="1012.70" cy="807.05" rx="4.2" ry="2.8" stroke-width="1.0" fill="none" transform="rotate(-30 1012.70 807.05)"/>
<line x1="1006.40" y1="808.65" x2="1013.40" y2="803.65" stroke-width="0.7"/>
<line x1="1007.60" y1="808.95" x2="1014.60" y2="803.95" stroke-width="0.7"/>
<line x1="1008.80" y1="809.25" x2="1015.80" y2="804.25" stroke-width="0.7"/>
<line x1="1010.00" y1="809.55" x2="1017.00" y2="804.55" stroke-width="0.7"/>
<line x1="1011.20" y1="809.85" x2="1018.20" y2="804.85" stroke-width="0.7"/>
<line x1="1007.50" y1="809.05" x2="1018.00" y2="802.55" stroke-width="0.7"/>
<ellipse cx="1012.70" cy="817.10" rx="4.2" ry="2.8" stroke-width="1.0" fill="none" transform="rotate(-30 1012.70 817.10)"/>
<line x1="1006.40" y1="818.70" x2="1013.40" y2="813.70" stroke-width="0.7"/>
<line x1="1007.60" y1="819.00" x2="1014.60" y2="814.00" stroke-width="0.7"/>
<line x1="1008.80" y1="819.30" x2="1015.80" y2="814.30" stroke-width="0.7"/>
<line x1="1010.00" y1="819.60" x2="1017.00" y2="814.60" stroke-width="0.7"/>
<line x1="1011.20" y1="819.90" x2="1018.20" y2="814.90" stroke-width="0.7"/>
<line x1="1007.50" y1="819.10" x2="1018.00" y2="812.60" stroke-width="0.7"/>
<ellipse cx="1012.70" cy="827.15" rx="4.2" ry="2.8" stroke-width="1.0" fill="none" transform="rotate(-30 1012.70 827.15)"/>
<line x1="1006.40" y1="828.75" x2="1013.40" y2="823.75" stroke-width="0.7"/>
<line x1="1007.60" y1="829.05" x2="1014.60" y2="824.05" stroke-width="0.7"/>
<line x1="1008.80" y1="829.35" x2="1015.80" y2="824.35" stroke-width="0.7"/>
<line x1="1010.00" y1="829.65" x2="1017.00" y2="824.65" stroke-width="0.7"/>
<line x1="1011.20" y1="829.95" x2="1018.20" y2="824.95" stroke-width="0.7"/>
<line x1="1007.50" y1="829.15" x2="1018.00" y2="822.65" stroke-width="0.7"/>
<ellipse cx="1012.70" cy="837.20" rx="4.2" ry="2.8" stroke-width="1.0" fill="none" transform="rotate(-30 1012.70 837.20)"/>
<line x1="1006.40" y1="838.80" x2="1013.40" y2="833.80" stroke-width="0.7"/>
<line x1="1007.60" y1="839.10" x2="1014.60" y2="834.10" stroke-width="0.7"/>
<line x1="1008.80" y1="839.40" x2="1015.80" y2="834.40" stroke-width="0.7"/>
<line x1="1010.00" y1="839.70" x2="1017.00" y2="834.70" stroke-width="0.7"/>
<line x1="1011.20" y1="840.00" x2="1018.20" y2="835.00" stroke-width="0.7"/>
<line x1="1007.50" y1="839.20" x2="1018.00" y2="832.70" stroke-width="0.7"/>
<ellipse cx="1012.70" cy="847.25" rx="4.2" ry="2.8" stroke-width="1.0" fill="none" transform="rotate(-30 1012.70 847.25)"/>
<line x1="1006.40" y1="848.85" x2="1013.40" y2="843.85" stroke-width="0.7"/>
<line x1="1007.60" y1="849.15" x2="1014.60" y2="844.15" stroke-width="0.7"/>
<line x1="1008.80" y1="849.45" x2="1015.80" y2="844.45" stroke-width="0.7"/>
<line x1="1010.00" y1="849.75" x2="1017.00" y2="844.75" stroke-width="0.7"/>
<line x1="1011.20" y1="850.05" x2="1018.20" y2="845.05" stroke-width="0.7"/>
<line x1="1007.50" y1="849.25" x2="1018.00" y2="842.75" stroke-width="0.7"/>
<ellipse cx="1012.70" cy="857.30" rx="4.2" ry="2.8" stroke-width="1.0" fill="none" transform="rotate(-30 1012.70 857.30)"/>
<line x1="1006.40" y1="858.90" x2="1013.40" y2="853.90" stroke-width="0.7"/>
<line x1="1007.60" y1="859.20" x2="1014.60" y2="854.20" stroke-width="0.7"/>
<line x1="1008.80" y1="859.50" x2="1015.80" y2="854.50" stroke-width="0.7"/>
<line x1="1010.00" y1="859.80" x2="1017.00" y2="854.80" stroke-width="0.7"/>
<line x1="1011.20" y1="860.10" x2="1018.20" y2="855.10" stroke-width="0.7"/>
<line x1="1007.50" y1="859.30" x2="1018.00" y2="852.80" stroke-width="0.7"/>
<ellipse cx="1012.70" cy="867.35" rx="4.2" ry="2.8" stroke-width="1.0" fill="none" transform="rotate(-30 1012.70 867.35)"/>
<line x1="1006.40" y1="868.95" x2="1013.40" y2="863.95" stroke-width="0.7"/>
<line x1="1007.60" y1="869.25" x2="1014.60" y2="864.25" stroke-width="0.7"/>
<line x1="1008.80" y1="869.55" x2="1015.80" y2="864.55" stroke-width="0.7"/>
<line x1="1010.00" y1="869.85" x2="1017.00" y2="864.85" stroke-width="0.7"/>
<line x1="1011.20" y1="870.15" x2="1018.20" y2="865.15" stroke-width="0.7"/>
<line x1="1007.50" y1="869.35" x2="1018.00" y2="862.85" stroke-width="0.7"/>
<ellipse cx="1012.70" cy="877.40" rx="4.2" ry="2.8" stroke-width="1.0" fill="none" transform="rotate(-30 1012.70 877.40)"/>
<line x1="1006.40" y1="879.00" x2="1013.40" y2="874.00" stroke-width="0.7"/>
<line x1="1007.60" y1="879.30" x2="1014.60" y2="874.30" stroke-width="0.7"/>
<line x1="1008.80" y1="879.60" x2="1015.80" y2="874.60" stroke-width="0.7"/>
<line x1="1010.00" y1="879.90" x2="1017.00" y2="874.90" stroke-width="0.7"/>
<line x1="1011.20" y1="880.20" x2="1018.20" y2="875.20" stroke-width="0.7"/>
<line x1="1007.50" y1="879.40" x2="1018.00" y2="872.90" stroke-width="0.7"/>
<ellipse cx="960.30" cy="873.90" rx="4" ry="4.3" stroke-width="0.9" fill="none" transform="rotate(-10 960.30 873.90)"/>
<ellipse cx="960.30" cy="888.60" rx="4" ry="4.3" stroke-width="0.9" fill="none" transform="rotate(-10 960.30 888.60)"/>
<ellipse cx="960.30" cy="902.40" rx="4" ry="4.3" stroke-width="0.9" fill="none" transform="rotate(-10 960.30 902.40)"/>
<text x="931" y="892.5" transform="rotate(-33 931 892.5)" textLength="15.5" lengthAdjust="spacingAndGlyphs" style="font-size:5.2px;font-weight:bold;font-style:italic">SELECT</text>
<text x="931" y="906" transform="rotate(-33 931 906)" textLength="13.5" lengthAdjust="spacingAndGlyphs" style="font-size:5.2px;font-weight:bold;font-style:italic">START</text>
<text x="960.3" y="876.2" text-anchor="middle" style="font-size:6px">P</text>
<text x="960.3" y="890.9" text-anchor="middle" style="font-size:6px">S</text>
<text x="960.3" y="904.7" text-anchor="middle" style="font-size:6px">E</text>
<line x1="946.50" y1="882.50" x2="952.50" y2="879.50" stroke-width="1.0"/>
<polygon points="955.00,878.20 951.00,877.90 953.00,881.30" fill="#000" stroke="none"/>
<line x1="945.00" y1="896.50" x2="951.00" y2="893.50" stroke-width="1.0"/>
<polygon points="953.50,892.20 949.50,891.90 951.50,895.30" fill="#000" stroke="none"/>
<line x1="946.00" y1="911.00" x2="952.00" y2="908.00" stroke-width="1.0"/>
<polygon points="954.50,906.70 950.50,906.40 952.50,909.80" fill="#000" stroke="none"/>
<line x1="929.50" y1="887.50" x2="931.00" y2="887.50" stroke-width="0.9"/>
<line x1="929.50" y1="901.50" x2="931.00" y2="901.50" stroke-width="0.9"/>
<line x1="929.50" y1="916.00" x2="931.00" y2="916.00" stroke-width="0.9"/>
<ellipse cx="952.40" cy="892.80" rx="1" ry="1" stroke-width="0.7" fill="none"/>
<ellipse cx="952.40" cy="907.20" rx="1" ry="1" stroke-width="0.7" fill="none"/>
<path d="M932,919 Q931,914 935,913.5 Q938,914 938,917 L933,920" stroke-width="0.8" fill="none"/>
<polyline points="868.40,905.10 893.20,891.30 893.20,903.30 868.40,918.00 868.40,905.10" stroke-width="1.0" fill="none"/>
<line x1="870.30" y1="898.70" x2="890.50" y2="888.60" stroke-width="1.6"/>
<polyline points="879.50,889.00 879.50,879.00 881.50,878.00 881.50,888.00" stroke-width="0.7" fill="none"/>
<ellipse cx="880.50" cy="889.00" rx="1.5" ry="1.5" stroke-width="0.7" fill="none"/>
<polyline points="897.80,887.60 916.20,878.50 916.20,890.40 897.80,900.50 897.80,887.60" stroke-width="1.0" fill="none"/>
<line x1="900.60" y1="881.20" x2="913.50" y2="874.80" stroke-width="1.6"/>
<ellipse cx="906.10" cy="869.30" rx="4.8" ry="5.3" stroke-width="0.9" fill="none"/>
<ellipse cx="906.10" cy="869.30" rx="3" ry="2" stroke-width="0.8" fill="none"/>
<polyline points="919.90,876.60 938.30,865.60 938.30,878.50 919.90,887.60 919.90,876.60" stroke-width="1.0" fill="none"/>
<line x1="922.60" y1="869.30" x2="935.50" y2="862.80" stroke-width="1.6"/>
<line x1="922.60" y1="889.00" x2="935.50" y2="882.00" stroke-width="1.6"/>
<path d="M818,900.3 L819.5,906.3 L824.5,905.3 L825.5,899.3" stroke-width="0.8" fill="none"/>
<line x1="819.00" y1="902.30" x2="825.00" y2="900.80" stroke-width="0.6"/>
<line x1="828.90" y1="902.30" x2="841.80" y2="895.30" stroke-width="1.5"/>
<ellipse cx="846.40" cy="891.80" rx="1.1" ry="1.1" stroke-width="0.8" fill="none"/>
<path d="M818,910.9 L819.5,916.9 L824.5,915.9 L825.5,909.9" stroke-width="0.8" fill="none"/>
<line x1="819.00" y1="912.90" x2="825.00" y2="911.40" stroke-width="0.6"/>
<line x1="828.90" y1="912.90" x2="841.80" y2="905.90" stroke-width="1.5"/>
<ellipse cx="846.40" cy="902.40" rx="1.1" ry="1.1" stroke-width="0.8" fill="none"/>
<path d="M818,921.5 L819.5,927.5 L824.5,926.5 L825.5,920.5" stroke-width="0.8" fill="none"/>
<line x1="819.00" y1="923.50" x2="825.00" y2="922.00" stroke-width="0.6"/>
<line x1="828.90" y1="923.50" x2="841.80" y2="916.50" stroke-width="1.5"/>
<ellipse cx="846.40" cy="913.00" rx="1.1" ry="1.1" stroke-width="0.8" fill="none"/>
<path d="M818,932.0999999999999 L819.5,938.0999999999999 L824.5,937.0999999999999 L825.5,931.0999999999999" stroke-width="0.8" fill="none"/>
<line x1="819.00" y1="934.10" x2="825.00" y2="932.60" stroke-width="0.6"/>
<line x1="828.90" y1="934.10" x2="841.80" y2="927.10" stroke-width="1.5"/>
<ellipse cx="846.40" cy="923.60" rx="1.1" ry="1.1" stroke-width="0.8" fill="none"/>
<path d="M818,942.6999999999999 L819.5,948.6999999999999 L824.5,947.6999999999999 L825.5,941.6999999999999" stroke-width="0.8" fill="none"/>
<line x1="819.00" y1="944.70" x2="825.00" y2="943.20" stroke-width="0.6"/>
<line x1="828.90" y1="944.70" x2="841.80" y2="937.70" stroke-width="1.5"/>
<ellipse cx="846.40" cy="934.20" rx="1.1" ry="1.1" stroke-width="0.8" fill="none"/>
<path d="M818,953.3 L819.5,959.3 L824.5,958.3 L825.5,952.3" stroke-width="0.8" fill="none"/>
<line x1="819.00" y1="955.30" x2="825.00" y2="953.80" stroke-width="0.6"/>
<line x1="828.90" y1="955.30" x2="841.80" y2="948.30" stroke-width="1.5"/>
<ellipse cx="846.40" cy="944.80" rx="1.1" ry="1.1" stroke-width="0.8" fill="none"/>
<path d="M818,963 L819.5,969 L824.5,968 L825.5,962" stroke-width="0.8" fill="none"/>
<ellipse cx="846.40" cy="952.90" rx="1.1" ry="1.1" stroke-width="0.8" fill="none"/>
<ellipse cx="840.50" cy="955.00" rx="1.1" ry="1.1" stroke-width="0.8" fill="none"/>
<path d="M834,976 Q830,966 838,964 Q843,966 840,970 Q836,971 837,967" stroke-width="0.8" fill="none"/>
<path d="M848,969 Q844,961 851,958 Q855,962 852,965 Q849,966 850,962" stroke-width="0.8" fill="none"/>
</svg>
</body></html>
